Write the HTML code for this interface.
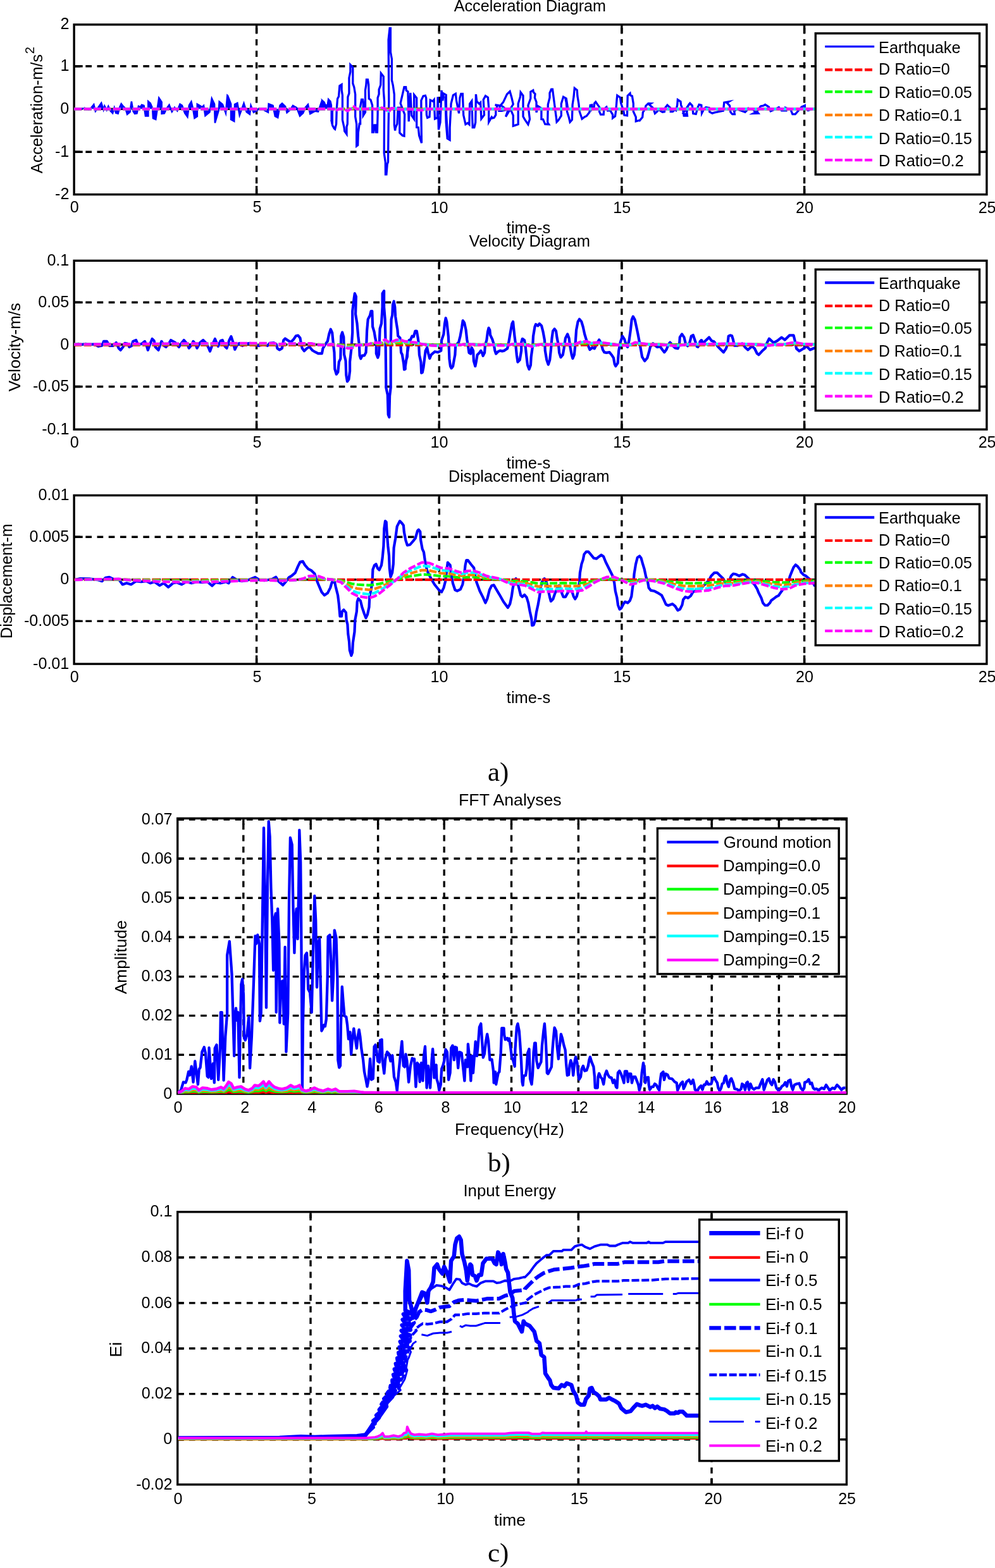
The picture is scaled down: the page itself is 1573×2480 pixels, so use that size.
<!DOCTYPE html>
<html lang="en"><head><meta charset="utf-8"><title>Seismic response figure</title>
<style>
html,body{margin:0;padding:0;background:#fff}
svg{display:block}
text{font-family:"Liberation Sans",sans-serif;fill:#000}
text.sf{font-family:"Liberation Serif",serif}
</style></head>
<body>
<svg width="1573" height="2480" viewBox="0 0 1573 2480">
<rect width="1573" height="2480" fill="#fff"/>
<defs>
<clipPath id="c1"><rect x="117.1" y="38.9" width="1442.80" height="268.70"/></clipPath>
<clipPath id="c2"><rect x="117.1" y="412.3" width="1442.80" height="266.90"/></clipPath>
<clipPath id="c3"><rect x="117.1" y="783.5" width="1442.80" height="266.60"/></clipPath>
<clipPath id="c4"><rect x="280.7" y="1294.4" width="1057.70" height="435.60"/></clipPath>
<clipPath id="c5"><rect x="280.7" y="1916.8" width="1057.70" height="431.20"/></clipPath>
</defs>
<g stroke="#000" stroke-width="3.4" fill="none" clip-path="url(#c1)">
<line x1="405.60" y1="308.40" x2="405.60" y2="38.90" stroke-dasharray="9.7 8.5"/>
<line x1="405.60" y1="38.90" x2="405.60" y2="52.50"/>
<line x1="405.60" y1="307.60" x2="405.60" y2="294.00"/>
<line x1="694.30" y1="308.40" x2="694.30" y2="38.90" stroke-dasharray="9.7 8.5"/>
<line x1="694.30" y1="38.90" x2="694.30" y2="52.50"/>
<line x1="694.30" y1="307.60" x2="694.30" y2="294.00"/>
<line x1="982.90" y1="308.40" x2="982.90" y2="38.90" stroke-dasharray="9.7 8.5"/>
<line x1="982.90" y1="38.90" x2="982.90" y2="52.50"/>
<line x1="982.90" y1="307.60" x2="982.90" y2="294.00"/>
<line x1="1271.60" y1="308.40" x2="1271.60" y2="38.90" stroke-dasharray="9.7 8.5"/>
<line x1="1271.60" y1="38.90" x2="1271.60" y2="52.50"/>
<line x1="1271.60" y1="307.60" x2="1271.60" y2="294.00"/>
<line x1="117.10" y1="104.80" x2="1559.90" y2="104.80" stroke-dasharray="9.7 8.5"/>
<line x1="117.10" y1="104.80" x2="130.70" y2="104.80"/>
<line x1="1559.90" y1="104.80" x2="1546.30" y2="104.80"/>
<line x1="117.10" y1="172.40" x2="1559.90" y2="172.40" stroke-dasharray="9.7 8.5"/>
<line x1="117.10" y1="172.40" x2="130.70" y2="172.40"/>
<line x1="1559.90" y1="172.40" x2="1546.30" y2="172.40"/>
<line x1="117.10" y1="240.20" x2="1559.90" y2="240.20" stroke-dasharray="9.7 8.5"/>
<line x1="117.10" y1="240.20" x2="130.70" y2="240.20"/>
<line x1="1559.90" y1="240.20" x2="1546.30" y2="240.20"/>
</g>
<rect x="117.1" y="38.9" width="1442.80" height="268.70" fill="none" stroke="#000" stroke-width="3.4"/>
<g clip-path="url(#c1)">
<polyline points="117.2,172.3 117.2,172.4 132.1,171.5 133.8,170.7 138.1,173.3 140.6,173.9 144.1,170.5 148.3,165.3 150.9,175.8 155.1,170.3 160.2,162.9 163.6,173.5 165.3,167.7 168.7,174.1 171.3,168.2 174.7,175.4 178.1,178.9 180.7,170.4 183.2,178.6 186.6,179.7 189.2,169.8 191.7,164.2 195.1,168.5 198.5,171.8 201.1,180.7 205.4,177.2 207.9,160.5 210.5,175.7 213.0,179.9 216.4,179.3 219.0,168.0 221.5,169.4 224.1,165.8 227.5,167.0 230.0,183.4 234.3,183.4 234.3,160.4 237.7,163.4 241.1,171.4 242.0,187.2 246.2,188.9 248.8,171.3 251.3,155.0 255.6,161.3 255.6,179.8 259.8,179.2 263.2,171.8 267.5,166.0 271.8,176.7 276.0,170.0 280.3,175.3 284.5,164.6 287.9,166.8 292.2,179.0 296.4,184.8 299.0,166.4 302.4,160.8 305.0,171.4 307.5,186.8 311.8,184.0 311.8,164.8 316.0,167.1 319.4,169.4 322.0,167.0 324.5,183.1 331.4,177.2 334.8,155.8 339.0,164.6 339.9,194.5 345.8,174.3 346.7,160.9 351.8,165.1 356.9,178.8 359.4,150.8 360.0,151.3 365.1,164.5 365.1,189.0 370.2,191.9 371.1,165.1 375.3,162.9 378.7,182.2 385.5,163.3 389.8,177.1 394.9,180.7 396.6,166.9 400.9,177.8 406.0,175.2 409.4,171.6 414.5,172.3 419.6,175.3 423.9,177.6 424.7,164.4 431.5,167.0 434.9,183.8 439.2,186.1 442.6,166.6 446.0,163.5 451.1,168.4 453.6,178.1 458.8,173.6 463.0,166.9 469.0,170.3 474.1,183.4 479.2,178.8 482.6,170.1 486.9,165.3 490.3,180.1 497.9,175.8 503.0,176.5 509.0,159.0 510.2,160.1 510.0,159.5 512.6,161.8 514.6,167.0 517.9,165.3 519.2,157.1 522.4,160.4 523.8,166.3 523.8,189.7 525.7,199.0 525.7,172.3" fill="none" stroke="#0000ff" stroke-width="2.6" stroke-linejoin="miter" stroke-miterlimit="6" style="fill:#0000ff"/>
<polyline points="523.8,189.8 525.7,198.4 528.3,203.1 529.6,204.2 531.6,196.1 532.3,171.6 533.6,156.2 535.5,152.6 536.9,135.8 540.1,133.8 540.1,142.5 541.4,150.6 541.4,189.6 544.1,201.9 544.7,207.5 548.0,212.1 548.0,200.5 549.3,196.1 549.9,153.4 551.9,147.6 551.9,123.2 553.9,113.6 553.9,102.4 557.8,106.6 557.8,131.9 559.8,137.8 561.7,149.3 561.7,184.5 563.7,196.4 563.7,231.0 565.7,229.6 566.3,209.5 568.3,195.6 569.6,195.7 569.6,168.9 571.6,157.3 573.5,157.3 574.2,161.1 574.2,182.8 577.5,177.5 577.5,142.7 578.8,134.6 579.4,125.9 581.4,125.9 582.7,133.7 583.3,156.1 586.0,158.0 588.6,166.4 588.6,209.1 590.6,209.1 591.9,197.9 593.8,197.9 594.5,209.1 596.4,209.1 597.1,180.6 597.1,154.7 599.1,148.9 599.1,141.6 601.7,134.5 602.3,115.8 606.3,121.0 606.3,142.5 607.6,161.1 607.2,242.1 609.3,256.7 609.5,275.9 610.9,275.9 612.2,259.6 613.5,256.3 614.1,200.3 614.8,161.0 614.1,62.8 616.1,44.7 617.4,44.7 617.4,82.2 619.4,93.1 619.4,126.7 621.3,135.1 623.3,149.3 623.3,197.5 624.6,206.5 625.3,202.1 627.9,195.9 629.2,170.4 631.8,170.4 631.8,210.0 636.4,214.5 639.0,215.2 639.7,180.9 633.1,163.5 639.0,137.7 641.6,137.7 642.3,143.0 644.9,144.8 646.2,192.1 648.8,146.9 650.8,182.7 654.7,188.4 654.7,150.0 658.7,155.0 658.7,201.4 661.3,201.8 662.6,214.4 666.5,226.2 665.9,181.9 665.9,158.8 669.1,151.9 672.4,151.1 673.7,154.7 674.4,181.7 675.7,186.2 679.0,184.8 680.3,158.3 684.2,160.2 686.2,157.7 687.5,187.9 691.4,186.1 692.1,153.4 693.4,205.2 696.0,193.5 698.0,142.9 699.9,159.4 701.2,147.9 705.2,150.2 705.8,193.6 707.8,218.3 703.9,152.3 705.2,193.8 707.2,219.1 711.1,221.3 711.1,201.8 713.1,164.0 716.4,150.5 720.3,148.2 721.6,159.6 725.5,179.3 726.9,155.0 728.8,148.4 731.4,148.4 732.7,182.0 736.0,196.6 739.3,194.6 741.9,196.9 742.6,164.3 745.8,159.7 747.2,201.5 749.8,201.5 751.7,193.7 752.4,149.1 753.7,160.4 757.6,164.1 759.6,162.2 760.9,187.9 765.5,181.7 764.2,157.7 767.5,151.7 771.4,154.2 772.7,170.5 772.7,193.1 777.3,185.1 778.6,186.8 781.2,186.0 783.8,181.7 783.8,174.6 786.4,166.5 782.5,166.0 790.4,167.2 789.1,175.3 793.0,175.3 800.9,173.5 791.7,166.2 795.6,161.6 801.5,149.1 806.1,144.7 808.7,153.7 811.3,164.8 799.5,184.6 803.5,173.3 807.4,173.3 811.3,182.5 811.3,199.3 813.9,198.4 819.2,196.6 819.2,164.0 822.5,153.0 823.1,146.0 827.0,151.2 827.0,184.4 829.7,189.1 834.9,196.8 837.5,188.5 834.9,166.6 838.8,155.7 838.8,145.1 842.8,142.8 843.4,146.0 846.0,148.7 845.4,154.5 848.0,161.5 848.0,177.9 850.6,167.8 855.9,171.3 855.9,188.6 858.5,188.9 861.8,196.3 867.6,196.7 865.7,193.5 866.3,165.3 869.0,154.5 869.0,147.1 871.6,141.2 873.5,141.2 874.9,151.9 876.8,166.5 879.4,186.3 880.1,192.9 882.7,190.3 887.3,183.0 887.3,164.0 890.6,153.1 895.2,155.7 896.5,164.0 897.8,172.7 893.9,156.3 895.2,161.5 896.5,176.6 899.2,185.2 901.1,193.1 904.4,189.4 905.1,165.3 907.0,153.1 908.3,139.4 912.3,142.5 912.9,151.8 914.9,164.0 916.2,176.5 918.8,184.0 920.1,188.0 924.1,184.9 927.3,183.5 931.9,177.6 933.2,166.4 935.8,165.9 935.8,172.9 939.1,169.6 939.8,163.2 941.7,161.2 945.0,165.9 947.6,169.6 947.6,176.6 949.6,181.2 954.2,181.2 954.8,172.5 958.8,169.2 960.7,175.1 964.7,174.7 968.6,181.3 968.6,186.7 972.5,183.9 973.8,174.1 975.1,157.5 975.8,151.0 980.4,154.2 981.7,163.4 985.6,174.7 986.9,182.1 991.5,182.9 992.2,151.4 996.1,147.6 996.7,150.8 999.4,151.9 1001.3,163.9 1001.3,176.5 1005.3,185.2 1005.3,191.8 1010.5,190.4 1011.2,190.7 1015.7,185.4 1016.4,177.5 1019.7,172.3 1021.0,167.3 1024.9,163.6 1028.8,163.7 1026.2,165.3 1032.8,171.3 1035.4,179.3 1039.3,175.9 1040.6,172.9 1044.6,175.5 1047.2,177.2 1050.4,176.7 1051.1,171.1 1055.0,166.2 1060.3,171.1 1060.3,176.6 1063.5,176.6 1066.2,173.6 1068.8,174.7 1070.7,166.2 1071.4,157.7 1076.0,160.8 1076.6,166.0 1079.9,174.7 1081.2,183.2 1086.5,183.2 1085.2,172.1 1090.0,163.9 1080.0,179.0 1084.3,181.9 1085.8,177.6 1087.2,168.5 1090.8,163.3 1094.4,167.1 1095.8,179.5 1100.2,180.4 1103.1,169.9 1105.2,165.5 1108.8,166.3 1109.5,179.0 1113.1,171.9 1116.0,169.7 1121.1,170.7 1121.8,176.9 1126.1,179.1 1129.0,178.1 1143.4,175.1 1144.8,162.2 1152.0,160.9 1149.2,162.6 1153.5,167.1 1154.9,177.3 1157.8,180.7 1161.4,180.7 1160.7,175.8 1165.0,172.6 1172.2,175.1 1178.0,177.4 1182.3,172.7 1183.0,171.3 1190.9,173.6 1194.5,177.6 1190.9,179.5 1198.9,179.3 1196.7,176.4 1202.5,167.9 1206.8,167.1 1209.7,165.5 1215.4,169.0 1216.9,172.9 1218.3,175.8 1224.1,173.3 1231.3,169.9 1235.6,174.9 1242.8,174.9 1242.1,170.5 1250.0,173.5 1252.9,180.7 1257.2,180.7 1264.4,172.5 1267.3,169.2 1272.3,166.9 1272.3,171.3 1277.4,174.7 1281.7,173.1 1287.5,172.2" fill="none" stroke="#0000ff" stroke-width="3.3" stroke-linejoin="miter" stroke-miterlimit="6"/>
<polyline points="117.2,172.3 1289.0,172.3" fill="none" stroke="#ff0000" stroke-width="4.2" stroke-linejoin="round" stroke-dasharray="11.9 3.5"/>
<polyline points="117.2,172.3 510.0,172.3 527.0,172.3 529.6,173.3 536.2,172.3 544.1,172.3 549.3,173.3 554.5,172.3 559.8,171.1 563.7,172.3 580.7,172.3 586.0,171.9 593.8,172.5 601.7,171.7 606.9,171.9 612.2,173.3 614.8,173.7 618.7,171.9 625.3,172.1 635.7,172.7 642.3,172.3 667.2,172.9 672.4,172.3 710.0,172.3 1289.0,172.3" fill="none" stroke="#00ff00" stroke-width="4.2" stroke-linejoin="round" stroke-dasharray="11.9 3.5"/>
<polyline points="117.2,172.3 510.0,172.3 527.0,172.3 529.6,174.1 536.2,172.3 544.1,172.3 549.3,174.1 554.5,172.3 559.8,170.2 563.7,172.3 580.7,172.3 586.0,171.6 593.8,172.7 601.7,171.2 606.9,171.6 612.2,174.1 614.8,174.8 618.7,171.6 625.3,171.9 635.7,173.0 642.3,172.3 667.2,173.4 672.4,172.3 710.0,172.3 1289.0,172.3" fill="none" stroke="#ff8000" stroke-width="4.2" stroke-linejoin="round" stroke-dasharray="11.9 3.5"/>
<polyline points="117.2,172.3 510.0,172.3 527.0,172.3 529.6,174.9 536.2,172.3 544.1,172.3 549.3,174.9 554.5,172.3 559.8,169.2 563.7,172.3 580.7,172.3 586.0,171.3 593.8,172.9 601.7,170.7 606.9,171.3 612.2,174.9 614.8,176.0 618.7,171.3 625.3,171.7 635.7,173.3 642.3,172.3 667.2,173.9 672.4,172.3 710.0,172.3 1289.0,172.3" fill="none" stroke="#00ffff" stroke-width="4.2" stroke-linejoin="round" stroke-dasharray="11.9 3.5"/>
<polyline points="117.2,172.3 510.0,172.3 527.0,172.3 529.6,175.6 536.2,172.3 544.1,172.3 549.3,175.6 554.5,172.3 559.8,168.4 563.7,172.3 580.7,172.3 586.0,171.0 593.8,173.0 601.7,170.3 606.9,171.0 612.2,175.6 614.8,176.9 618.7,171.0 625.3,171.6 635.7,173.6 642.3,172.3 667.2,174.3 672.4,172.3 710.0,172.3 1289.0,172.3" fill="none" stroke="#ff00ff" stroke-width="4.2" stroke-linejoin="round" stroke-dasharray="11.9 3.5"/>
</g>
<text x="110.87" y="336.50" font-size="26.3" transform="translate(110.87 0) scale(0.9550 1) translate(-110.87 0)">0</text>
<text x="399.49" y="336.50" font-size="26.3" transform="translate(399.49 0) scale(0.9550 1) translate(-399.49 0)">5</text>
<text x="680.58" y="336.50" font-size="26.3" textLength="27.94" lengthAdjust="spacingAndGlyphs">10</text>
<text x="969.20" y="336.50" font-size="26.3" textLength="27.94" lengthAdjust="spacingAndGlyphs">15</text>
<text x="1258.01" y="336.50" font-size="26.3" textLength="27.94" lengthAdjust="spacingAndGlyphs">20</text>
<text x="1546.63" y="336.50" font-size="26.3" textLength="27.94" lengthAdjust="spacingAndGlyphs">25</text>
<text x="95.52" y="46.50" font-size="26.3" transform="translate(95.52 0) scale(0.9550 1) translate(-95.52 0)">2</text>
<text x="95.39" y="112.40" font-size="26.3" transform="translate(95.39 0) scale(0.9550 1) translate(-95.39 0)">1</text>
<text x="95.14" y="180.00" font-size="26.3" transform="translate(95.14 0) scale(0.9550 1) translate(-95.14 0)">0</text>
<text x="86.98" y="247.80" font-size="26.3" textLength="22.33" lengthAdjust="spacingAndGlyphs">-1</text>
<text x="87.10" y="315.20" font-size="26.3" textLength="22.33" lengthAdjust="spacingAndGlyphs">-2</text>
<rect x="1289.3" y="52.8" width="259.20" height="223.20" fill="#fff" stroke="#000" stroke-width="3.4"/>
<line x1="1304.2" y1="73.70" x2="1382.2" y2="73.70" stroke="#0000ff" stroke-width="3.2"/>
<text x="1388.97" y="83.50" font-size="26.3" textLength="129.67" lengthAdjust="spacingAndGlyphs">Earthquake</text>
<line x1="1304.2" y1="110.40" x2="1382.2" y2="110.40" stroke="#ff0000" stroke-width="4.2" stroke-dasharray="12 3.7"/>
<text x="1388.98" y="118.30" font-size="26.3" textLength="112.89" lengthAdjust="spacingAndGlyphs">D Ratio=0</text>
<line x1="1304.2" y1="145.10" x2="1382.2" y2="145.10" stroke="#00ff00" stroke-width="4.2" stroke-dasharray="12 3.7"/>
<text x="1388.98" y="154.60" font-size="26.3" textLength="147.82" lengthAdjust="spacingAndGlyphs">D Ratio=0.05</text>
<line x1="1304.2" y1="181.80" x2="1382.2" y2="181.80" stroke="#ff8000" stroke-width="4.2" stroke-dasharray="12 3.7"/>
<text x="1389.02" y="190.70" font-size="26.3" textLength="131.67" lengthAdjust="spacingAndGlyphs">D Ratio=0.1</text>
<line x1="1304.2" y1="216.90" x2="1382.2" y2="216.90" stroke="#00ffff" stroke-width="4.2" stroke-dasharray="12 3.7"/>
<text x="1388.98" y="227.50" font-size="26.3" textLength="147.82" lengthAdjust="spacingAndGlyphs">D Ratio=0.15</text>
<line x1="1304.2" y1="253.20" x2="1382.2" y2="253.20" stroke="#ff00ff" stroke-width="4.2" stroke-dasharray="12 3.7"/>
<text x="1388.97" y="263.10" font-size="26.3" textLength="134.77" lengthAdjust="spacingAndGlyphs">D Ratio=0.2</text>
<g stroke="#000" stroke-width="3.4" fill="none" clip-path="url(#c2)">
<line x1="405.60" y1="680.00" x2="405.60" y2="412.30" stroke-dasharray="9.7 8.5"/>
<line x1="405.60" y1="412.30" x2="405.60" y2="425.90"/>
<line x1="405.60" y1="679.20" x2="405.60" y2="665.60"/>
<line x1="694.30" y1="680.00" x2="694.30" y2="412.30" stroke-dasharray="9.7 8.5"/>
<line x1="694.30" y1="412.30" x2="694.30" y2="425.90"/>
<line x1="694.30" y1="679.20" x2="694.30" y2="665.60"/>
<line x1="982.90" y1="680.00" x2="982.90" y2="412.30" stroke-dasharray="9.7 8.5"/>
<line x1="982.90" y1="412.30" x2="982.90" y2="425.90"/>
<line x1="982.90" y1="679.20" x2="982.90" y2="665.60"/>
<line x1="1271.60" y1="680.00" x2="1271.60" y2="412.30" stroke-dasharray="9.7 8.5"/>
<line x1="1271.60" y1="412.30" x2="1271.60" y2="425.90"/>
<line x1="1271.60" y1="679.20" x2="1271.60" y2="665.60"/>
<line x1="117.10" y1="478.20" x2="1559.90" y2="478.20" stroke-dasharray="9.7 8.5"/>
<line x1="117.10" y1="478.20" x2="130.70" y2="478.20"/>
<line x1="1559.90" y1="478.20" x2="1546.30" y2="478.20"/>
<line x1="117.10" y1="545.00" x2="1559.90" y2="545.00" stroke-dasharray="9.7 8.5"/>
<line x1="117.10" y1="545.00" x2="130.70" y2="545.00"/>
<line x1="1559.90" y1="545.00" x2="1546.30" y2="545.00"/>
<line x1="117.10" y1="611.50" x2="1559.90" y2="611.50" stroke-dasharray="9.7 8.5"/>
<line x1="117.10" y1="611.50" x2="130.70" y2="611.50"/>
<line x1="1559.90" y1="611.50" x2="1546.30" y2="611.50"/>
</g>
<rect x="117.1" y="412.3" width="1442.80" height="266.90" fill="none" stroke="#000" stroke-width="3.4"/>
<g clip-path="url(#c2)">
<polyline points="117.9,544.8 123.8,543.9 129.6,544.8 135.5,543.9 141.4,544.8 149.3,544.4 155.2,547.8 161.1,546.8 164.0,539.9 168.9,539.9 172.9,546.8 178.8,546.8 183.7,541.9 187.6,550.7 190.6,553.7 194.5,548.8 197.4,542.9 202.3,543.9 204.3,548.8 208.2,546.8 210.2,539.9 215.1,538.0 218.1,544.8 223.9,543.9 228.9,539.9 231.8,546.8 233.8,553.7 237.7,542.9 240.6,536.0 243.6,538.9 245.6,548.8 250.5,553.7 253.4,544.8 255.4,539.9 259.3,546.8 262.3,548.8 267.2,542.9 270.1,538.0 277.0,541.9 282.9,548.8 286.8,542.9 290.7,538.0 296.6,544.8 298.6,550.7 303.5,544.8 305.5,539.9 309.4,544.8 311.4,550.7 316.3,541.9 321.2,538.0 326.1,542.9 330.0,550.7 332.0,555.6 335.9,544.8 339.9,536.0 344.8,547.8 348.7,538.9 351.7,538.0 355.6,547.8 358.5,550.7 362.5,538.0 365.4,532.1 368.3,540.9 371.3,552.7 374.2,546.8 378.2,542.9 383.1,546.8 389.0,543.9 394.9,542.9 398.8,543.3 400.0,544.4 404.9,546.1 409.8,546.9 416.4,544.4 422.9,546.9 426.2,542.8 432.7,542.0 436.8,544.4 438.5,551.0 441.7,553.4 445.8,551.0 448.3,537.9 450.8,535.4 455.7,538.7 459.8,541.2 463.9,537.1 467.9,531.3 471.2,530.5 474.5,534.6 476.1,544.4 477.8,551.0 481.0,555.1 485.1,551.0 489.2,548.5 494.1,554.3 498.2,556.7 503.1,559.2 508.9,559.2 510.5,551.0 514.6,544.4 517.9,539.5 520.3,528.1 522.8,520.7 525.2,526.4 526.9,544.4 528.5,557.5 529.3,583.7 531.8,591.9 534.3,588.6 535.9,572.3 538.3,567.3 539.2,531.3 541.1,525.6 543.3,533.0 544.1,560.8 546.5,570.6 547.3,593.5 549.0,603.4 551.4,600.1 553.1,587.0 553.1,572.3 555.5,551.0 557.2,526.4 557.2,492.0 559.6,472.4 560.8,464.2 562.9,469.1 562.1,496.9 564.5,511.7 566.2,531.3 567.8,544.4 568.6,562.4 570.3,567.3 572.7,562.4 576.0,562.4 578.5,557.5 579.3,544.4 580.1,523.1 581.7,505.1 585.0,498.6 586.6,492.0 588.3,492.0 589.1,516.6 591.6,524.8 593.2,534.6 594.8,541.2 594.8,559.2 597.3,565.7 598.9,560.8 599.7,544.4 600.6,519.9 603.0,511.7 604.6,485.5 604.6,464.2 607.1,460.1 607.1,485.5 608.7,505.1 609.6,544.4 610.4,613.2 612.8,624.6 613.7,655.8 615.3,659.8 616.1,626.3 617.7,613.2 617.7,544.4 618.6,505.1 620.2,498.6 621.0,482.2 622.7,476.5 624.3,485.5 625.1,500.2 626.8,511.7 628.4,521.5 629.2,531.3 632.5,534.6 633.3,544.4 634.1,557.5 635.8,560.8 638.2,575.5 639.0,584.5 640.7,583.7 640.7,573.9 643.9,564.1 644.8,544.4 647.2,537.9 640.0,584.1 641.6,571.0 643.3,566.1 644.9,544.8 646.5,538.2 649.0,537.4 651.5,531.7 653.9,532.5 656.4,523.5 658.8,523.5 660.5,533.3 662.1,544.8 662.9,561.2 665.4,572.6 666.2,589.8 667.8,589.0 669.5,580.8 671.1,567.7 672.7,554.6 675.2,549.7 676.8,557.9 679.3,566.9 681.7,561.2 687.5,556.2 692.4,557.1 697.3,554.6 698.1,538.2 701.4,528.4 703.0,512.0 704.7,503.0 706.3,508.8 708.8,531.7 709.6,546.4 710.4,567.7 712.0,579.2 713.7,582.4 716.1,579.2 717.8,569.3 719.4,561.2 720.2,546.4 725.1,541.5 727.6,531.7 730.0,518.6 731.7,507.1 734.1,510.4 736.6,521.9 738.2,536.6 739.9,546.4 741.5,557.9 744.0,559.5 745.6,549.7 748.1,554.6 748.9,571.0 751.3,579.2 753.0,571.0 754.6,561.2 757.9,557.9 760.3,554.6 762.0,557.9 763.6,562.8 766.1,557.9 766.9,546.4 769.3,538.2 771.0,525.1 772.6,518.6 774.3,521.9 775.1,530.0 778.3,536.6 780.8,544.8 782.4,554.6 784.1,559.5 787.3,556.2 790.6,554.6 793.9,555.4 797.2,554.6 802.1,551.3 804.5,539.9 807.0,525.1 809.4,512.0 811.1,508.8 811.9,516.9 813.5,531.7 815.2,544.8 816.8,561.2 818.5,572.6 821.7,569.3 824.2,554.6 824.2,541.5 825.8,535.8 829.1,538.2 830.7,548.1 832.4,564.4 834.0,577.5 836.5,584.1 838.9,577.5 839.7,564.4 842.2,546.4 843.0,531.7 845.5,516.9 847.1,512.9 850.4,515.3 852.8,512.0 856.1,515.3 858.6,525.1 861.0,538.2 861.8,554.6 864.3,569.3 866.8,576.7 869.2,569.3 870.8,554.6 872.5,535.0 874.1,523.5 876.6,520.2 879.0,523.5 880.7,535.0 883.1,546.4 884.1,557.9 886.5,565.2 889.8,561.2 891.5,551.3 893.9,535.0 897.2,528.4 899.6,535.0 901.3,548.1 903.7,561.2 905.4,566.9 907.8,561.2 909.5,544.8 911.1,521.9 913.6,508.8 916.0,504.7 919.3,508.8 921.7,516.9 924.2,528.4 926.7,536.6 929.1,544.8 932.4,553.0 936.5,549.7 939.8,551.3 943.0,544.8 947.1,537.4 950.4,543.1 952.9,553.0 955.3,557.1 958.6,557.9 963.5,557.1 966.8,561.2 970.0,566.1 971.7,575.9 973.3,579.2 976.6,574.3 978.2,554.6 980.7,541.5 984.0,531.7 987.2,536.6 989.7,544.8 992.1,548.9 994.6,538.2 997.1,520.2 998.7,505.5 1000.8,500.6 1003.6,505.5 1006.1,516.9 1008.5,528.4 1011.0,541.5 1013.4,554.6 1015.1,564.4 1019.2,571.0 1023.3,566.1 1025.7,557.9 1028.2,548.1 1032.3,543.1 1035.5,546.4 1038.8,548.9 1043.7,548.1 1047.0,553.0 1050.3,557.1 1053.5,553.0 1056.8,544.8 1059.3,541.5 1063.4,546.4 1067.5,550.5 1071.6,551.3 1074.0,544.8 1074.8,533.3 1078.1,528.4 1081.4,533.3 1083.8,543.1 1087.1,547.2 1090.4,541.5 1092.8,531.7 1095.8,530.0 1098.6,538.2 1101.8,548.1 1105.1,546.4 1106.8,539.9 1109.2,538.2 1103.3,548.7 1108.5,538.2 1111.8,542.2 1121.0,533.6 1124.9,538.9 1128.8,540.2 1135.4,548.7 1143.9,557.2 1147.8,551.3 1150.4,543.5 1151.7,531.7 1154.4,530.4 1157.0,531.0 1158.9,536.9 1160.9,546.7 1165.5,546.7 1173.3,543.5 1178.6,550.0 1182.5,553.3 1189.1,547.4 1193.0,551.3 1196.9,559.2 1199.5,561.2 1204.8,555.3 1210.0,550.7 1212.6,542.2 1215.9,535.6 1223.1,542.2 1229.0,538.9 1235.6,533.6 1240.8,537.6 1248.0,530.4 1254.6,530.4 1256.5,538.2 1259.1,551.3 1263.7,555.3 1270.3,551.3 1274.9,547.4 1280.7,553.3 1288.6,550.0" fill="none" stroke="#0000ff" stroke-width="4.2" stroke-linejoin="round"/>
<polyline points="117.2,545.6 1289.0,545.6" fill="none" stroke="#ff0000" stroke-width="4.2" stroke-linejoin="round" stroke-dasharray="11.9 3.5"/>
<polyline points="117.2,544.6 400.0,544.1 432.7,544.1 439.3,544.7 449.1,544.3 491.7,544.1 501.5,544.8 514.6,545.1 524.4,544.5 531.0,545.1 539.2,545.5 550.6,546.5 557.2,546.3 563.7,545.1 580.1,544.8 589.9,543.8 601.4,543.8 608.7,542.4 616.1,543.8 625.9,542.6 632.5,542.4 639.0,543.1 650.0,543.6 656.4,543.7 666.2,544.4 680.9,545.1 697.3,545.4 708.8,544.7 721.9,545.1 731.7,544.7 746.4,544.6 754.6,544.9 771.0,544.7 787.3,545.1 800.4,545.1 811.9,544.4 828.3,544.7 841.4,545.6 852.8,544.7 869.2,544.7 896.4,544.4 906.2,544.9 917.7,543.4 927.5,543.2 934.0,543.9 945.5,543.7 955.3,543.9 971.7,544.7 981.5,545.1 994.6,545.1 1004.4,543.7 1014.3,544.1 1027.3,544.7 1043.7,544.7 1060.1,545.1 1069.9,545.4 1084.6,544.7 1109.2,544.4 1126.2,544.5 1152.4,544.3 1185.1,544.5 1204.8,544.8 1215.3,545.2 1223.1,544.8 1237.5,544.7 1250.6,543.9 1261.1,543.9 1270.3,544.5 1288.6,544.7" fill="none" stroke="#00ff00" stroke-width="4.2" stroke-linejoin="round" stroke-dasharray="11.9 3.5"/>
<polyline points="117.2,544.6 400.0,543.6 432.7,543.6 439.3,544.7 449.1,544.1 491.7,543.8 501.5,544.9 514.6,545.4 524.4,544.5 531.0,545.4 539.2,546.3 550.6,548.1 557.2,547.7 563.7,545.4 580.1,544.9 589.9,543.2 601.4,543.2 608.7,540.5 616.1,543.2 625.9,540.9 632.5,540.5 639.0,541.8 650.0,542.7 656.4,542.9 666.2,544.3 680.9,545.6 697.3,546.0 708.8,544.7 721.9,545.6 731.7,544.7 746.4,544.5 754.6,545.1 771.0,544.7 787.3,545.6 800.4,545.6 811.9,544.3 828.3,544.7 841.4,546.5 852.8,544.7 869.2,544.7 896.4,544.3 906.2,545.1 917.7,542.5 927.5,542.0 934.0,543.3 945.5,542.9 955.3,543.3 971.7,544.7 981.5,545.6 994.6,545.6 1004.4,542.9 1014.3,543.8 1027.3,544.7 1043.7,544.7 1060.1,545.6 1069.9,546.0 1084.6,544.7 1109.2,544.3 1126.2,544.3 1152.4,544.0 1185.1,544.3 1204.8,545.0 1215.3,545.8 1223.1,545.0 1237.5,544.7 1250.6,543.3 1261.1,543.3 1270.3,544.3 1288.6,544.7" fill="none" stroke="#ff8000" stroke-width="4.2" stroke-linejoin="round" stroke-dasharray="11.9 3.5"/>
<polyline points="117.2,544.6 400.0,543.2 432.7,543.2 439.3,544.8 449.1,543.8 491.7,543.4 501.5,545.1 514.6,545.8 524.4,544.4 531.0,545.8 539.2,547.1 550.6,549.7 557.2,549.1 563.7,545.8 580.1,545.1 589.9,542.5 601.4,542.5 608.7,538.6 616.1,542.5 625.9,539.2 632.5,538.6 639.0,540.5 650.0,541.9 656.4,542.1 666.2,544.1 680.9,546.0 697.3,546.7 708.8,544.8 721.9,546.0 731.7,544.8 746.4,544.5 754.6,545.4 771.0,544.8 787.3,546.0 800.4,546.0 811.9,544.1 828.3,544.8 841.4,547.4 852.8,544.8 869.2,544.8 896.4,544.1 906.2,545.4 917.7,541.5 927.5,540.8 934.0,542.8 945.5,542.1 955.3,542.8 971.7,544.8 981.5,546.0 994.6,546.0 1004.4,542.1 1014.3,543.4 1027.3,544.8 1043.7,544.8 1060.1,546.0 1069.9,546.7 1084.6,544.8 1109.2,544.1 1126.2,544.2 1152.4,543.7 1185.1,544.2 1204.8,545.2 1215.3,546.3 1223.1,545.2 1237.5,544.8 1250.6,542.7 1261.1,542.7 1270.3,544.2 1288.6,544.8" fill="none" stroke="#00ffff" stroke-width="4.2" stroke-linejoin="round" stroke-dasharray="11.9 3.5"/>
<polyline points="117.2,544.6 400.0,542.8 432.7,542.8 439.3,544.8 449.1,543.6 491.7,543.1 501.5,545.2 514.6,546.1 524.4,544.4 531.0,546.1 539.2,547.7 550.6,551.0 557.2,550.2 563.7,546.1 580.1,545.2 589.9,542.0 601.4,542.0 608.7,537.1 616.1,542.0 625.9,537.9 632.5,537.1 639.0,539.5 650.0,541.2 656.4,541.5 666.2,544.0 680.9,546.4 697.3,547.2 708.8,544.8 721.9,546.4 731.7,544.8 746.4,544.5 754.6,545.6 771.0,544.8 787.3,546.4 800.4,546.4 811.9,544.0 828.3,544.8 841.4,548.1 852.8,544.8 869.2,544.8 896.4,544.0 906.2,545.6 917.7,540.7 927.5,539.9 934.0,542.3 945.5,541.5 955.3,542.3 971.7,544.8 981.5,546.4 994.6,546.4 1004.4,541.5 1014.3,543.1 1027.3,544.8 1043.7,544.8 1060.1,546.4 1069.9,547.2 1084.6,544.8 1109.2,544.0 1126.2,544.1 1152.4,543.5 1185.1,544.1 1204.8,545.4 1215.3,546.7 1223.1,545.4 1237.5,544.8 1250.6,542.2 1261.1,542.2 1270.3,544.1 1288.6,544.8" fill="none" stroke="#ff00ff" stroke-width="4.2" stroke-linejoin="round" stroke-dasharray="11.9 3.5"/>
</g>
<text x="110.87" y="708.10" font-size="26.3" transform="translate(110.87 0) scale(0.9550 1) translate(-110.87 0)">0</text>
<text x="399.49" y="708.10" font-size="26.3" transform="translate(399.49 0) scale(0.9550 1) translate(-399.49 0)">5</text>
<text x="680.58" y="708.10" font-size="26.3" textLength="27.94" lengthAdjust="spacingAndGlyphs">10</text>
<text x="969.20" y="708.10" font-size="26.3" textLength="27.94" lengthAdjust="spacingAndGlyphs">15</text>
<text x="1258.01" y="708.10" font-size="26.3" textLength="27.94" lengthAdjust="spacingAndGlyphs">20</text>
<text x="1546.63" y="708.10" font-size="26.3" textLength="27.94" lengthAdjust="spacingAndGlyphs">25</text>
<text x="74.42" y="419.90" font-size="26.3" textLength="34.92" lengthAdjust="spacingAndGlyphs">0.1</text>
<text x="60.35" y="485.80" font-size="26.3" textLength="48.88" lengthAdjust="spacingAndGlyphs">0.05</text>
<text x="95.14" y="552.60" font-size="26.3" transform="translate(95.14 0) scale(0.9550 1) translate(-95.14 0)">0</text>
<text x="51.94" y="619.10" font-size="26.3" textLength="57.25" lengthAdjust="spacingAndGlyphs">-0.05</text>
<text x="66.13" y="686.80" font-size="26.3" textLength="43.28" lengthAdjust="spacingAndGlyphs">-0.1</text>
<rect x="1289.3" y="426.2" width="259.20" height="223.20" fill="#fff" stroke="#000" stroke-width="3.4"/>
<line x1="1304.2" y1="447.10" x2="1382.2" y2="447.10" stroke="#0000ff" stroke-width="4.2"/>
<text x="1388.97" y="456.90" font-size="26.3" textLength="129.67" lengthAdjust="spacingAndGlyphs">Earthquake</text>
<line x1="1304.2" y1="483.80" x2="1382.2" y2="483.80" stroke="#ff0000" stroke-width="4.2" stroke-dasharray="12 3.7"/>
<text x="1388.98" y="491.70" font-size="26.3" textLength="112.89" lengthAdjust="spacingAndGlyphs">D Ratio=0</text>
<line x1="1304.2" y1="518.50" x2="1382.2" y2="518.50" stroke="#00ff00" stroke-width="4.2" stroke-dasharray="12 3.7"/>
<text x="1388.98" y="528.00" font-size="26.3" textLength="147.82" lengthAdjust="spacingAndGlyphs">D Ratio=0.05</text>
<line x1="1304.2" y1="555.20" x2="1382.2" y2="555.20" stroke="#ff8000" stroke-width="4.2" stroke-dasharray="12 3.7"/>
<text x="1389.02" y="564.10" font-size="26.3" textLength="131.67" lengthAdjust="spacingAndGlyphs">D Ratio=0.1</text>
<line x1="1304.2" y1="590.30" x2="1382.2" y2="590.30" stroke="#00ffff" stroke-width="4.2" stroke-dasharray="12 3.7"/>
<text x="1388.98" y="600.90" font-size="26.3" textLength="147.82" lengthAdjust="spacingAndGlyphs">D Ratio=0.15</text>
<line x1="1304.2" y1="626.60" x2="1382.2" y2="626.60" stroke="#ff00ff" stroke-width="4.2" stroke-dasharray="12 3.7"/>
<text x="1388.97" y="636.50" font-size="26.3" textLength="134.77" lengthAdjust="spacingAndGlyphs">D Ratio=0.2</text>
<g stroke="#000" stroke-width="3.4" fill="none" clip-path="url(#c3)">
<line x1="405.60" y1="1050.90" x2="405.60" y2="783.50" stroke-dasharray="9.7 8.5"/>
<line x1="405.60" y1="783.50" x2="405.60" y2="797.10"/>
<line x1="405.60" y1="1050.10" x2="405.60" y2="1036.50"/>
<line x1="694.30" y1="1050.90" x2="694.30" y2="783.50" stroke-dasharray="9.7 8.5"/>
<line x1="694.30" y1="783.50" x2="694.30" y2="797.10"/>
<line x1="694.30" y1="1050.10" x2="694.30" y2="1036.50"/>
<line x1="982.90" y1="1050.90" x2="982.90" y2="783.50" stroke-dasharray="9.7 8.5"/>
<line x1="982.90" y1="783.50" x2="982.90" y2="797.10"/>
<line x1="982.90" y1="1050.10" x2="982.90" y2="1036.50"/>
<line x1="1271.60" y1="1050.90" x2="1271.60" y2="783.50" stroke-dasharray="9.7 8.5"/>
<line x1="1271.60" y1="783.50" x2="1271.60" y2="797.10"/>
<line x1="1271.60" y1="1050.10" x2="1271.60" y2="1036.50"/>
<line x1="117.10" y1="849.20" x2="1559.90" y2="849.20" stroke-dasharray="9.7 8.5"/>
<line x1="117.10" y1="849.20" x2="130.70" y2="849.20"/>
<line x1="1559.90" y1="849.20" x2="1546.30" y2="849.20"/>
<line x1="117.10" y1="916.80" x2="1559.90" y2="916.80" stroke-dasharray="9.7 8.5"/>
<line x1="117.10" y1="916.80" x2="130.70" y2="916.80"/>
<line x1="1559.90" y1="916.80" x2="1546.30" y2="916.80"/>
<line x1="117.10" y1="982.40" x2="1559.90" y2="982.40" stroke-dasharray="9.7 8.5"/>
<line x1="117.10" y1="982.40" x2="130.70" y2="982.40"/>
<line x1="1559.90" y1="982.40" x2="1546.30" y2="982.40"/>
</g>
<rect x="117.1" y="783.5" width="1442.80" height="266.60" fill="none" stroke="#000" stroke-width="3.4"/>
<g clip-path="url(#c3)">
<polyline points="118.4,917.1 126.8,915.0 141.4,915.4 154.0,917.1 161.3,919.2 166.6,913.9 172.9,912.9 179.2,916.0 187.5,916.0 193.8,924.4 200.1,922.3 207.4,924.4 214.8,919.2 223.2,920.2 231.5,919.2 237.8,922.3 244.1,920.2 252.5,925.9 258.8,922.3 266.1,928.6 273.5,922.3 279.7,921.2 287.1,924.4 294.4,920.2 302.8,922.3 311.2,920.2 319.6,921.2 327.9,920.2 335.3,926.5 340.5,921.2 348.9,922.3 357.3,920.2 361.5,922.3 367.8,912.9 374.0,917.1 382.4,919.2 392.9,917.1 403.4,912.9 409.7,917.1 418.0,918.1 420.0,917.7 430.2,916.0 436.2,912.6 440.4,919.4 447.2,925.4 452.4,919.4 456.6,913.4 460.9,910.9 466.8,905.8 471.1,895.6 474.5,888.8 478.7,887.9 482.1,893.9 487.3,899.8 492.4,902.4 497.5,907.5 500.0,916.0 503.4,924.5 508.5,936.4 512.8,941.5 517.9,938.1 522.2,929.6 524.7,921.1 529.0,920.3 530.7,927.9 534.1,941.5 535.8,955.2 537.5,974.7 540.0,974.7 540.9,967.1 543.4,964.5 546.9,968.8 547.7,980.7 549.4,987.5 550.3,1002.8 552.0,1014.8 552.8,1028.4 555.4,1036.9 557.1,1031.8 557.9,1016.5 560.5,999.4 561.3,980.7 563.9,967.1 564.7,951.8 566.4,946.6 569.8,950.1 572.4,960.3 575.8,970.5 578.4,977.3 580.9,972.2 583.5,960.3 584.3,943.2 586.9,931.3 588.6,919.4 589.4,900.7 592.0,893.9 594.5,892.2 597.1,899.0 599.6,901.5 603.0,893.9 604.7,881.9 606.4,863.2 607.3,836.0 609.0,824.1 610.7,825.8 611.6,841.1 613.3,863.2 615.0,878.5 615.8,899.0 617.5,912.6 620.1,905.8 621.8,892.2 622.6,866.6 625.2,851.3 627.7,832.6 632.0,824.1 635.4,827.5 637.9,830.9 638.8,841.1 641.4,854.7 643.9,862.4 648.2,861.5 653.3,855.6 656.7,851.3 660.1,839.4 661.8,837.7 664.3,841.1 665.2,854.7 667.7,868.3 670.0,873.4 671.7,885.4 675.1,902.4 681.9,916.0 687.0,924.5 693.8,933.0 698.1,936.4 701.5,929.6 704.1,919.4 706.6,899.0 707.8,889.6 711.7,893.9 713.4,909.2 716.0,922.8 719.4,933.0 722.8,934.7 727.9,932.2 731.3,924.5 733.9,909.2 735.6,893.9 737.3,886.2 739.8,886.2 744.9,893.0 749.2,898.1 750.9,909.2 753.4,921.1 758.5,934.7 763.6,944.9 767.4,953.5 770.5,946.6 773.9,933.0 777.3,926.2 780.7,925.4 784.1,931.3 789.2,939.8 796.0,951.8 802.8,961.1 806.2,955.2 808.8,943.2 810.5,931.3 813.0,919.4 815.6,915.1 818.1,921.1 820.7,931.3 823.2,941.5 825.8,944.1 829.2,940.7 832.6,944.9 835.2,953.5 837.7,967.1 840.3,979.0 841.1,989.2 843.7,988.4 846.2,980.7 847.9,968.8 850.5,956.9 853.0,943.2 854.7,929.6 857.3,919.4 860.7,915.1 864.1,921.1 866.7,933.0 869.2,944.9 870.9,950.9 874.3,947.5 876.9,939.8 880.3,931.3 883.7,926.2 886.2,931.3 888.8,939.8 890.5,944.1 893.9,944.1 897.3,938.1 900.7,931.3 904.1,934.7 906.7,943.2 909.2,947.5 911.8,943.2 914.3,933.0 916.0,919.4 916.9,905.8 919.4,892.2 921.7,885.4 923.4,876.8 926.8,872.6 930.2,872.6 934.5,877.7 938.7,882.8 943.0,883.6 947.2,880.2 950.6,877.7 954.1,880.2 957.5,888.8 962.6,899.0 967.7,909.2 971.1,921.1 972.8,934.7 975.3,944.9 977.0,956.9 979.6,963.7 982.1,962.0 985.6,955.2 988.1,951.8 992.4,953.5 995.8,950.1 998.3,943.2 1000.0,929.6 1001.7,919.4 1002.6,907.5 1005.1,892.2 1007.7,881.9 1011.1,879.4 1013.6,882.8 1016.2,892.2 1018.8,900.7 1021.3,912.6 1023.9,919.4 1025.6,929.6 1029.0,933.9 1034.1,934.7 1039.2,937.3 1046.0,941.5 1049.4,948.4 1052.8,956.0 1056.2,957.7 1063.0,955.2 1067.3,958.6 1071.5,965.4 1074.9,963.7 1078.4,956.9 1080.1,948.4 1083.5,944.1 1087.7,945.8 1092.0,942.4 1095.4,936.4 1100.5,933.9 1107.3,931.3 1114.1,924.5 1120.9,917.7 1124.3,910.9 1129.4,905.8 1133.7,905.8 1137.9,910.0 1143.1,915.1 1146.5,921.1 1149.9,922.0 1153.3,917.7 1155.8,910.9 1159.2,907.5 1163.5,908.3 1168.6,910.9 1173.7,908.3 1177.1,909.2 1178.6,910.4 1183.8,915.6 1189.1,920.9 1193.0,924.8 1196.9,931.3 1199.5,937.9 1203.5,945.7 1206.1,953.6 1209.4,957.5 1213.3,957.5 1217.2,953.6 1219.2,949.7 1223.1,947.0 1227.0,943.8 1231.0,941.8 1233.6,937.9 1237.5,932.6 1242.8,924.8 1246.7,920.9 1248.7,911.7 1251.9,903.8 1254.6,897.3 1257.8,893.3 1261.1,896.0 1265.0,901.2 1266.3,905.1 1270.3,909.1 1274.2,911.0 1279.4,915.6 1284.7,920.9 1288.6,927.4" fill="none" stroke="#0000ff" stroke-width="4.2" stroke-linejoin="round"/>
<polyline points="117.2,916.9 1289.0,916.9" fill="none" stroke="#ff0000" stroke-width="4.2" stroke-linejoin="round" stroke-dasharray="11.9 3.5"/>
<polyline points="118.4,917.0 187.5,916.5 204.3,917.1 256.7,917.9 298.6,918.1 340.5,917.9 382.4,917.4 420.0,917.1 445.5,917.4 467.7,917.0 479.6,916.4 488.1,915.2 496.6,915.1 505.1,915.3 513.6,916.4 525.6,916.9 539.2,918.2 549.4,921.2 556.2,923.3 564.7,924.5 573.2,925.1 583.5,925.6 592.0,924.8 600.5,923.3 609.0,921.2 617.5,919.2 627.7,916.6 637.9,913.6 648.2,911.5 658.4,910.0 666.9,908.7 670.0,908.7 678.5,909.0 687.0,910.0 697.2,911.3 709.2,911.5 721.1,912.8 729.6,913.6 738.1,912.8 748.3,912.6 758.5,913.6 768.8,915.1 780.7,915.9 789.2,916.4 799.4,917.9 809.6,919.2 819.8,919.2 830.1,919.7 840.3,921.2 850.5,922.8 860.7,922.5 874.3,922.5 891.4,922.2 908.4,922.5 918.6,922.0 920.0,922.0 930.2,920.2 940.4,918.2 950.6,916.6 959.2,915.6 971.1,915.6 979.6,916.6 988.1,917.9 996.6,919.2 1005.1,918.7 1011.9,917.6 1018.8,917.0 1030.7,917.4 1039.2,917.9 1049.4,918.7 1059.6,920.0 1069.8,921.2 1080.1,922.2 1090.3,922.5 1100.5,922.5 1100.0,922.4 1119.6,922.0 1132.7,920.8 1145.8,919.8 1158.9,919.7 1172.0,918.9 1185.1,918.3 1198.2,918.5 1211.3,919.7 1224.4,920.8 1237.5,921.4 1248.0,921.0 1257.2,919.7 1270.3,918.9 1288.6,918.5" fill="none" stroke="#00ff00" stroke-width="4.2" stroke-linejoin="round" stroke-dasharray="11.9 3.5"/>
<polyline points="118.4,917.0 187.5,916.2 204.3,917.2 256.7,918.7 298.6,919.0 340.5,918.7 382.4,917.9 420.0,917.3 445.5,917.8 467.7,917.2 479.6,915.9 488.1,913.8 496.6,913.6 505.1,914.0 513.6,915.9 525.6,916.9 539.2,919.2 549.4,924.8 556.2,928.6 564.7,930.9 573.2,931.9 583.5,932.8 592.0,931.4 600.5,928.6 609.0,924.8 617.5,921.1 627.7,916.4 637.9,910.8 648.2,907.1 658.4,904.2 666.9,901.9 670.0,901.9 678.5,902.4 687.0,904.2 697.2,906.6 709.2,907.1 721.1,909.4 729.6,910.8 738.1,909.4 748.3,909.1 758.5,910.8 768.8,913.6 780.7,915.0 789.2,915.9 799.4,918.8 809.6,921.1 819.8,921.1 830.1,922.0 840.3,924.8 850.5,927.6 860.7,927.2 874.3,927.2 891.4,926.7 908.4,927.2 918.6,926.2 920.0,926.2 930.2,922.9 940.4,919.2 950.6,916.4 959.2,914.5 971.1,914.5 979.6,916.4 988.1,918.8 996.6,921.1 1005.1,920.1 1011.9,918.3 1018.8,917.2 1030.7,917.8 1039.2,918.8 1049.4,920.1 1059.6,922.5 1069.8,924.8 1080.1,926.7 1090.3,927.2 1100.5,927.2 1100.0,927.0 1119.6,926.2 1132.7,924.1 1145.8,922.3 1158.9,922.0 1172.0,920.5 1185.1,919.4 1198.2,919.8 1211.3,922.0 1224.4,924.1 1237.5,925.2 1248.0,924.5 1257.2,922.0 1270.3,920.5 1288.6,919.8" fill="none" stroke="#ff8000" stroke-width="4.2" stroke-linejoin="round" stroke-dasharray="11.9 3.5"/>
<polyline points="118.4,917.1 187.5,915.9 204.3,917.4 256.7,919.5 298.6,920.0 340.5,919.5 382.4,918.3 420.0,917.5 445.5,918.3 467.7,917.3 479.6,915.5 488.1,912.3 496.6,912.1 505.1,912.7 513.6,915.5 525.6,916.9 539.2,920.3 549.4,928.4 556.2,933.9 564.7,937.3 573.2,938.7 583.5,940.0 592.0,937.9 600.5,933.9 609.0,928.4 617.5,923.0 627.7,916.2 637.9,908.0 648.2,902.6 658.4,898.5 666.9,895.1 670.0,895.1 678.5,895.8 687.0,898.5 697.2,901.9 709.2,902.6 721.1,905.9 729.6,908.0 738.1,905.9 748.3,905.5 758.5,908.0 768.8,912.1 780.7,914.1 789.2,915.5 799.4,919.6 809.6,923.0 819.8,923.0 830.1,924.3 840.3,928.4 850.5,932.5 860.7,931.9 874.3,931.9 891.4,931.1 908.4,931.9 918.6,930.5 920.0,930.5 930.2,925.7 940.4,920.3 950.6,916.2 959.2,913.5 971.1,913.5 979.6,916.2 988.1,919.6 996.6,923.0 1005.1,921.6 1011.9,918.9 1018.8,917.3 1030.7,918.3 1039.2,919.6 1049.4,921.6 1059.6,925.1 1069.8,928.4 1080.1,931.1 1090.3,931.9 1100.5,931.9 1100.0,931.6 1119.6,930.5 1132.7,927.4 1145.8,924.7 1158.9,924.3 1172.0,922.2 1185.1,920.6 1198.2,921.1 1211.3,924.3 1224.4,927.4 1237.5,929.0 1248.0,927.9 1257.2,924.3 1270.3,922.2 1288.6,921.1" fill="none" stroke="#00ffff" stroke-width="4.2" stroke-linejoin="round" stroke-dasharray="11.9 3.5"/>
<polyline points="118.4,917.1 187.5,915.6 204.3,917.5 256.7,920.2 298.6,920.8 340.5,920.2 382.4,918.7 420.0,917.7 445.5,918.6 467.7,917.4 479.6,915.1 488.1,911.2 496.6,910.9 505.1,911.7 513.6,915.1 525.6,916.9 539.2,921.1 549.4,931.3 556.2,938.1 564.7,942.4 573.2,944.1 583.5,945.8 592.0,943.2 600.5,938.1 609.0,931.3 617.5,924.5 627.7,916.0 637.9,905.8 648.2,899.0 658.4,893.9 666.9,889.6 670.0,889.6 678.5,890.5 687.0,893.9 697.2,898.1 709.2,899.0 721.1,903.2 729.6,905.8 738.1,903.2 748.3,902.7 758.5,905.8 768.8,910.9 780.7,913.4 789.2,915.1 799.4,920.3 809.6,924.5 819.8,924.5 830.1,926.2 840.3,931.3 850.5,936.4 860.7,935.6 874.3,935.6 891.4,934.7 908.4,935.6 918.6,933.9 920.0,933.9 930.2,927.9 940.4,921.1 950.6,916.0 959.2,912.6 971.1,912.6 979.6,916.0 988.1,920.3 996.6,924.5 1005.1,922.8 1011.9,919.4 1018.8,917.4 1030.7,918.6 1039.2,920.3 1049.4,922.8 1059.6,927.1 1069.8,931.3 1080.1,934.7 1090.3,935.6 1100.5,935.6 1100.0,935.3 1119.6,933.9 1132.7,930.0 1145.8,926.7 1158.9,926.1 1172.0,923.5 1185.1,921.5 1198.2,922.2 1211.3,926.1 1224.4,930.0 1237.5,932.0 1248.0,930.7 1257.2,926.1 1270.3,923.5 1288.6,922.2" fill="none" stroke="#ff00ff" stroke-width="4.2" stroke-linejoin="round" stroke-dasharray="11.9 3.5"/>
</g>
<text x="110.87" y="1079.40" font-size="26.3" transform="translate(110.87 0) scale(0.9550 1) translate(-110.87 0)">0</text>
<text x="399.49" y="1079.40" font-size="26.3" transform="translate(399.49 0) scale(0.9550 1) translate(-399.49 0)">5</text>
<text x="680.58" y="1079.40" font-size="26.3" textLength="27.94" lengthAdjust="spacingAndGlyphs">10</text>
<text x="969.20" y="1079.40" font-size="26.3" textLength="27.94" lengthAdjust="spacingAndGlyphs">15</text>
<text x="1258.01" y="1079.40" font-size="26.3" textLength="27.94" lengthAdjust="spacingAndGlyphs">20</text>
<text x="1546.63" y="1079.40" font-size="26.3" textLength="27.94" lengthAdjust="spacingAndGlyphs">25</text>
<text x="60.48" y="791.10" font-size="26.3" textLength="48.88" lengthAdjust="spacingAndGlyphs">0.01</text>
<text x="46.41" y="856.80" font-size="26.3" textLength="62.85" lengthAdjust="spacingAndGlyphs">0.005</text>
<text x="95.14" y="924.40" font-size="26.3" transform="translate(95.14 0) scale(0.9550 1) translate(-95.14 0)">0</text>
<text x="38.00" y="990.00" font-size="26.3" textLength="71.22" lengthAdjust="spacingAndGlyphs">-0.005</text>
<text x="52.06" y="1057.70" font-size="26.3" textLength="57.25" lengthAdjust="spacingAndGlyphs">-0.01</text>
<rect x="1289.3" y="797.4" width="259.20" height="223.20" fill="#fff" stroke="#000" stroke-width="3.4"/>
<line x1="1304.2" y1="818.30" x2="1382.2" y2="818.30" stroke="#0000ff" stroke-width="4.2"/>
<text x="1388.97" y="828.10" font-size="26.3" textLength="129.67" lengthAdjust="spacingAndGlyphs">Earthquake</text>
<line x1="1304.2" y1="855.00" x2="1382.2" y2="855.00" stroke="#ff0000" stroke-width="4.2" stroke-dasharray="12 3.7"/>
<text x="1388.98" y="862.90" font-size="26.3" textLength="112.89" lengthAdjust="spacingAndGlyphs">D Ratio=0</text>
<line x1="1304.2" y1="889.70" x2="1382.2" y2="889.70" stroke="#00ff00" stroke-width="4.2" stroke-dasharray="12 3.7"/>
<text x="1388.98" y="899.20" font-size="26.3" textLength="147.82" lengthAdjust="spacingAndGlyphs">D Ratio=0.05</text>
<line x1="1304.2" y1="926.40" x2="1382.2" y2="926.40" stroke="#ff8000" stroke-width="4.2" stroke-dasharray="12 3.7"/>
<text x="1389.02" y="935.30" font-size="26.3" textLength="131.67" lengthAdjust="spacingAndGlyphs">D Ratio=0.1</text>
<line x1="1304.2" y1="961.50" x2="1382.2" y2="961.50" stroke="#00ffff" stroke-width="4.2" stroke-dasharray="12 3.7"/>
<text x="1388.98" y="972.10" font-size="26.3" textLength="147.82" lengthAdjust="spacingAndGlyphs">D Ratio=0.15</text>
<line x1="1304.2" y1="997.80" x2="1382.2" y2="997.80" stroke="#ff00ff" stroke-width="4.2" stroke-dasharray="12 3.7"/>
<text x="1388.97" y="1007.70" font-size="26.3" textLength="134.77" lengthAdjust="spacingAndGlyphs">D Ratio=0.2</text>
<text x="717.80" y="18.30" font-size="26.3" textLength="240.23" lengthAdjust="spacingAndGlyphs">Acceleration Diagram</text>
<text x="800.82" y="369.40" font-size="26.3" textLength="69.33" lengthAdjust="spacingAndGlyphs">time-s</text>
<text x="741.52" y="390.40" font-size="26.3" textLength="191.44" lengthAdjust="spacingAndGlyphs">Velocity Diagram</text>
<text x="800.82" y="740.70" font-size="26.3" textLength="69.33" lengthAdjust="spacingAndGlyphs">time-s</text>
<text x="709.04" y="761.70" font-size="26.3" textLength="254.55" lengthAdjust="spacingAndGlyphs">Displacement Diagram</text>
<text x="800.82" y="1112.10" font-size="26.3" textLength="69.33" lengthAdjust="spacingAndGlyphs">time-s</text>
<text transform="translate(67.00 274.25) rotate(-90)" font-size="26.3" textLength="188.44" lengthAdjust="spacingAndGlyphs">Acceleration-m/s</text>
<text transform="translate(53.80 85.31) rotate(-90) scale(0.962 1)" font-size="21">2</text>
<text transform="translate(31.50 619.33) rotate(-90)" font-size="26.3" textLength="140.45" lengthAdjust="spacingAndGlyphs">Velocity-m/s</text>
<text transform="translate(18.60 1010.01) rotate(-90)" font-size="26.3" textLength="181.63" lengthAdjust="spacingAndGlyphs">Displacement-m</text>
<g stroke="#000" stroke-width="3.4" fill="none" clip-path="url(#c4)">
<line x1="384.80" y1="1730.80" x2="384.80" y2="1294.40" stroke-dasharray="9.7 8.5"/>
<line x1="384.80" y1="1294.40" x2="384.80" y2="1304.60"/>
<line x1="384.80" y1="1730.00" x2="384.80" y2="1719.80"/>
<line x1="491.20" y1="1730.80" x2="491.20" y2="1294.40" stroke-dasharray="9.7 8.5"/>
<line x1="491.20" y1="1294.40" x2="491.20" y2="1304.60"/>
<line x1="491.20" y1="1730.00" x2="491.20" y2="1719.80"/>
<line x1="597.60" y1="1730.80" x2="597.60" y2="1294.40" stroke-dasharray="9.7 8.5"/>
<line x1="597.60" y1="1294.40" x2="597.60" y2="1304.60"/>
<line x1="597.60" y1="1730.00" x2="597.60" y2="1719.80"/>
<line x1="702.20" y1="1730.80" x2="702.20" y2="1294.40" stroke-dasharray="9.7 8.5"/>
<line x1="702.20" y1="1294.40" x2="702.20" y2="1304.60"/>
<line x1="702.20" y1="1730.00" x2="702.20" y2="1719.80"/>
<line x1="808.50" y1="1730.80" x2="808.50" y2="1294.40" stroke-dasharray="9.7 8.5"/>
<line x1="808.50" y1="1294.40" x2="808.50" y2="1304.60"/>
<line x1="808.50" y1="1730.00" x2="808.50" y2="1719.80"/>
<line x1="914.40" y1="1730.80" x2="914.40" y2="1294.40" stroke-dasharray="9.7 8.5"/>
<line x1="914.40" y1="1294.40" x2="914.40" y2="1304.60"/>
<line x1="914.40" y1="1730.00" x2="914.40" y2="1719.80"/>
<line x1="1018.80" y1="1730.80" x2="1018.80" y2="1294.40" stroke-dasharray="9.7 8.5"/>
<line x1="1018.80" y1="1294.40" x2="1018.80" y2="1304.60"/>
<line x1="1018.80" y1="1730.00" x2="1018.80" y2="1719.80"/>
<line x1="1125.20" y1="1730.80" x2="1125.20" y2="1294.40" stroke-dasharray="9.7 8.5"/>
<line x1="1125.20" y1="1294.40" x2="1125.20" y2="1304.60"/>
<line x1="1125.20" y1="1730.00" x2="1125.20" y2="1719.80"/>
<line x1="1231.40" y1="1730.80" x2="1231.40" y2="1294.40" stroke-dasharray="9.7 8.5"/>
<line x1="1231.40" y1="1294.40" x2="1231.40" y2="1304.60"/>
<line x1="1231.40" y1="1730.00" x2="1231.40" y2="1719.80"/>
<line x1="280.70" y1="1296.00" x2="1338.40" y2="1296.00" stroke-dasharray="9.7 8.5"/>
<line x1="280.70" y1="1296.00" x2="290.90" y2="1296.00"/>
<line x1="1338.40" y1="1296.00" x2="1328.20" y2="1296.00"/>
<line x1="280.70" y1="1358.00" x2="1338.40" y2="1358.00" stroke-dasharray="9.7 8.5"/>
<line x1="280.70" y1="1358.00" x2="290.90" y2="1358.00"/>
<line x1="1338.40" y1="1358.00" x2="1328.20" y2="1358.00"/>
<line x1="280.70" y1="1420.20" x2="1338.40" y2="1420.20" stroke-dasharray="9.7 8.5"/>
<line x1="280.70" y1="1420.20" x2="290.90" y2="1420.20"/>
<line x1="1338.40" y1="1420.20" x2="1328.20" y2="1420.20"/>
<line x1="280.70" y1="1482.20" x2="1338.40" y2="1482.20" stroke-dasharray="9.7 8.5"/>
<line x1="280.70" y1="1482.20" x2="290.90" y2="1482.20"/>
<line x1="1338.40" y1="1482.20" x2="1328.20" y2="1482.20"/>
<line x1="280.70" y1="1544.60" x2="1338.40" y2="1544.60" stroke-dasharray="9.7 8.5"/>
<line x1="280.70" y1="1544.60" x2="290.90" y2="1544.60"/>
<line x1="1338.40" y1="1544.60" x2="1328.20" y2="1544.60"/>
<line x1="280.70" y1="1606.40" x2="1338.40" y2="1606.40" stroke-dasharray="9.7 8.5"/>
<line x1="280.70" y1="1606.40" x2="290.90" y2="1606.40"/>
<line x1="1338.40" y1="1606.40" x2="1328.20" y2="1606.40"/>
<line x1="280.70" y1="1668.40" x2="1338.40" y2="1668.40" stroke-dasharray="9.7 8.5"/>
<line x1="280.70" y1="1668.40" x2="290.90" y2="1668.40"/>
<line x1="1338.40" y1="1668.40" x2="1328.20" y2="1668.40"/>
<line x1="280.70" y1="1730.40" x2="1338.40" y2="1730.40" stroke-dasharray="9.7 8.5"/>
<line x1="280.70" y1="1730.40" x2="290.90" y2="1730.40"/>
<line x1="1338.40" y1="1730.40" x2="1328.20" y2="1730.40"/>
</g>
<rect x="280.7" y="1294.4" width="1057.70" height="435.60" fill="none" stroke="#000" stroke-width="3.4"/>
<g clip-path="url(#c4)">
<polyline points="281.5,1728.1 286.1,1724.4 289.8,1711.5 293.5,1712.4 295.3,1707.8 298.1,1694.9 300.0,1700.5 302.7,1686.7 305.5,1711.5 308.3,1678.4 312.9,1715.2 314.7,1691.3 316.6,1688.5 319.4,1663.7 322.7,1656.3 324.9,1665.5 327.7,1702.3 329.5,1704.1 330.5,1657.2 334.1,1706.0 336.9,1682.1 338.8,1712.4 339.7,1658.1 342.5,1652.6 345.2,1707.8 348.0,1658.1 348.9,1601.1 350.8,1601.1 353.6,1708.7 356.3,1639.7 359.1,1602.9 359.1,1510.9 362.8,1488.8 366.5,1540.3 368.3,1602.9 370.2,1670.1 371.1,1610.3 373.0,1594.6 374.8,1614.0 376.3,1601.1 378.5,1704.1 379.4,1650.8 381.3,1556.9 383.1,1548.6 385.0,1573.5 385.9,1641.6 387.8,1645.2 390.5,1636.0 393.3,1608.4 395.1,1689.4 397.9,1639.7 400.7,1562.4 403.5,1480.5 405.3,1492.5 407.2,1478.7 409.9,1492.5 410.9,1614.9 412.7,1602.9 414.6,1474.1 417.0,1309.3 419.2,1437.3 421.0,1593.7 422.9,1400.4 424.7,1299.2 426.6,1323.1 428.4,1404.1 430.3,1455.7 432.1,1534.8 434.0,1452.0 435.8,1444.6 436.7,1601.1 439.1,1437.3 441.4,1492.5 442.3,1617.6 444.1,1553.2 446.9,1551.4 448.8,1619.5 450.6,1498.0 452.4,1663.7 455.2,1602.9 457.1,1418.8 458.9,1325.0 461.7,1336.0 463.5,1437.3 465.4,1507.2 466.8,1455.7 468.7,1437.3 470.5,1485.1 472.0,1418.8 473.3,1313.0 475.2,1363.6 476.1,1455.7 477.0,1566.1 477.9,1722.6 478.9,1621.3 480.7,1538.5 482.6,1510.9 485.0,1507.2 486.3,1534.8 487.2,1564.3 490.0,1569.8 492.7,1601.1 494.6,1520.1 496.4,1450.1 497.3,1417.0 499.2,1455.7 501.0,1561.5 502.9,1492.5 505.1,1484.2 506.6,1547.7 508.4,1630.5 510.3,1626.8 512.1,1621.3 514.0,1623.2 515.8,1612.1 517.7,1547.7 518.6,1481.4 521.4,1478.7 523.2,1520.1 525.1,1582.7 526.9,1547.7 528.8,1471.3 531.5,1483.3 533.4,1547.7 534.3,1676.5 536.2,1688.5 538.0,1685.7 538.9,1621.3 540.8,1560.6 542.6,1584.5 544.5,1606.6 547.3,1608.4 549.1,1621.3 551.0,1643.4 553.4,1632.4 555.2,1667.3 556.5,1648.9 559.3,1626.8 561.1,1639.7 563.9,1658.1 565.7,1639.7 567.6,1628.7 569.4,1639.7 571.3,1658.1 574.1,1676.5 575.9,1694.9 578.7,1708.7 580.5,1718.5 582.4,1708.7 585.1,1674.7 587.0,1707.5 589.8,1706.0 591.6,1655.4 593.5,1652.6 595.3,1661.8 597.2,1678.4 599.9,1680.2 600.9,1645.2 603.6,1644.3 604.6,1676.5 607.3,1697.7 609.2,1674.7 612.0,1663.7 614.7,1666.4 617.5,1678.4 620.3,1669.2 623.0,1703.2 625.8,1711.5 627.7,1725.3 630.4,1694.9 633.2,1667.3 635.4,1647.1 637.8,1685.7 639.7,1687.6 641.5,1667.3 643.4,1678.4 646.1,1711.5 648.9,1685.7 651.7,1673.8 653.5,1676.5 655.0,1674.9 657.4,1718.9 659.7,1681.2 662.1,1684.3 663.6,1711.0 666.0,1681.2 668.4,1709.4 669.9,1671.7 672.0,1655.2 673.1,1678.0 674.6,1720.5 677.0,1685.9 680.1,1720.5 682.5,1678.0 684.1,1659.2 685.6,1678.0 686.4,1704.7 689.6,1684.3 690.4,1706.3 692.7,1714.2 694.3,1724.4 696.7,1715.7 698.2,1690.6 700.6,1684.3 702.2,1678.0 704.5,1659.9 706.9,1663.9 709.2,1707.9 711.6,1696.9 713.2,1657.6 715.5,1653.7 717.9,1676.4 719.4,1656.0 721.8,1656.8 724.2,1689.0 726.5,1663.9 729.7,1665.4 732.0,1687.4 734.4,1709.4 735.9,1676.4 739.1,1687.4 739.9,1651.3 742.2,1673.3 744.3,1709.4 746.2,1670.2 748.0,1696.9 750.1,1668.6 751.7,1647.4 754.0,1670.2 756.4,1645.0 757.9,1624.6 760.3,1619.1 761.9,1643.4 763.8,1672.5 765.8,1667.0 768.2,1646.6 770.2,1635.6 772.1,1646.6 774.4,1676.4 777.6,1675.7 780.0,1693.7 780.7,1712.6 783.1,1695.3 784.2,1715.0 786.2,1704.7 787.8,1696.9 789.4,1695.3 791.7,1665.4 793.3,1626.1 796.5,1626.1 797.2,1637.2 798.8,1644.2 802.0,1641.9 803.5,1645.8 805.1,1642.7 807.1,1656.0 809.0,1671.7 811.4,1678.0 813.7,1686.7 814.5,1659.2 816.9,1624.6 818.5,1619.1 820.8,1630.9 822.4,1652.9 824.0,1678.0 825.5,1711.0 826.6,1716.5 827.9,1701.6 831.0,1700.8 832.6,1690.6 834.2,1665.4 836.5,1659.2 838.1,1706.3 840.5,1715.0 842.0,1700.0 843.6,1663.9 845.2,1649.7 846.7,1649.7 848.3,1678.0 850.7,1689.0 853.0,1684.3 855.4,1679.6 857.0,1652.9 859.3,1630.9 860.9,1619.1 862.5,1640.3 864.0,1671.7 864.8,1696.9 866.4,1698.4 868.8,1693.7 871.9,1687.4 873.5,1659.2 875.0,1641.9 876.6,1625.4 879.0,1630.9 880.5,1652.9 882.9,1674.9 884.5,1656.0 885.0,1652.9 886.9,1635.6 888.9,1641.9 891.3,1652.9 893.6,1660.7 895.2,1684.3 896.8,1700.8 899.1,1700.0 900.7,1684.3 902.3,1677.2 904.6,1684.3 906.2,1700.8 908.6,1678.0 910.1,1671.7 912.5,1681.2 914.1,1700.0 915.6,1707.1 918.0,1703.2 919.6,1690.6 921.9,1685.9 924.3,1693.7 927.4,1692.9 929.8,1685.9 931.4,1676.4 932.9,1671.7 935.3,1679.6 938.4,1687.4 940.0,1703.2 940.8,1720.5 944.7,1720.5 945.5,1703.2 947.1,1697.7 949.4,1703.2 951.8,1706.3 954.2,1715.0 956.5,1700.0 958.9,1693.7 961.2,1700.0 963.6,1703.9 966.7,1704.7 969.1,1712.6 971.4,1707.9 973.8,1718.9 975.4,1720.5 976.9,1696.9 979.3,1693.7 981.7,1698.4 984.0,1704.7 986.4,1712.6 987.9,1694.5 991.1,1694.5 992.7,1711.0 994.2,1698.4 997.4,1698.4 998.9,1712.6 1001.3,1703.2 1004.4,1703.2 1006.8,1709.4 1009.2,1715.7 1010.7,1724.4 1013.1,1715.7 1014.7,1696.9 1017.0,1681.2 1018.6,1690.6 1020.2,1712.6 1021.7,1704.7 1024.9,1703.9 1025.7,1715.7 1027.2,1723.6 1030.4,1718.9 1032.7,1718.9 1035.1,1714.2 1037.5,1715.7 1039.8,1720.5 1042.2,1724.4 1043.7,1709.4 1045.3,1698.4 1048.5,1695.3 1050.0,1707.9 1052.4,1698.4 1055.5,1700.0 1057.9,1705.5 1062.6,1706.3 1066.5,1711.0 1069.7,1712.6 1071.2,1724.4 1073.6,1718.9 1076.0,1714.2 1079.1,1711.0 1080.7,1722.0 1083.0,1717.3 1085.4,1711.0 1089.3,1707.9 1092.5,1714.2 1095.6,1707.9 1097.2,1714.2 1098.8,1723.6 1102.7,1725.2 1105.0,1720.5 1108.2,1717.3 1110.5,1723.6 1112.9,1715.7 1115.0,1715.9 1117.4,1710.4 1119.7,1715.1 1124.4,1714.3 1126.8,1706.4 1129.1,1704.1 1131.5,1708.8 1133.9,1712.7 1135.4,1720.6 1137.8,1725.3 1140.1,1720.6 1141.7,1714.3 1144.1,1712.7 1145.6,1704.9 1147.7,1701.7 1149.6,1712.7 1151.9,1719.0 1154.3,1708.0 1156.2,1705.7 1159.0,1712.7 1161.4,1722.2 1165.3,1722.9 1168.4,1725.3 1171.6,1722.2 1173.2,1714.3 1175.5,1715.9 1177.9,1723.7 1180.2,1712.7 1181.8,1711.2 1184.2,1723.7 1186.5,1714.3 1188.9,1720.6 1192.0,1722.9 1195.2,1720.6 1199.9,1720.6 1202.2,1714.3 1205.4,1707.2 1207.7,1723.7 1210.9,1714.3 1213.2,1708.0 1215.6,1705.7 1217.9,1712.7 1220.3,1715.9 1222.7,1707.2 1225.0,1711.2 1227.4,1720.6 1230.5,1724.5 1233.7,1722.2 1236.0,1718.2 1239.2,1715.9 1241.5,1711.9 1243.9,1718.2 1246.2,1709.6 1249.4,1708.0 1251.0,1717.4 1253.3,1723.7 1255.7,1715.9 1259.6,1714.3 1263.5,1713.5 1265.9,1720.6 1269.0,1724.5 1271.4,1720.6 1272.2,1711.9 1275.3,1711.2 1278.5,1707.2 1280.8,1714.3 1283.2,1712.7 1285.5,1720.6 1287.9,1722.9 1291.0,1722.2 1294.2,1724.5 1298.9,1720.6 1302.8,1722.2 1306.0,1715.9 1309.1,1720.6 1311.5,1724.5 1316.2,1720.6 1319.3,1722.2 1323.3,1715.9 1326.4,1719.0 1330.3,1723.7 1333.5,1720.6 1336.6,1720.6" fill="none" stroke="#0000ff" stroke-width="4.3" stroke-linejoin="round"/>
<polyline points="280.9,1729.4 286.8,1729.2 292.7,1728.6 298.6,1728.7 304.5,1728.3 310.4,1728.4 314.3,1729.0 320.2,1728.5 328.0,1728.6 333.9,1728.9 341.8,1728.7 349.7,1728.4 353.6,1728.7 357.5,1728.1 361.4,1727.4 365.4,1727.7 369.3,1728.6 375.2,1728.4 381.1,1728.3 387.0,1728.7 392.9,1729.0 398.8,1728.6 402.7,1728.0 408.6,1728.1 412.5,1727.8 416.5,1727.3 420.4,1728.1 425.3,1727.3 429.2,1727.9 434.1,1728.4 440.0,1728.6 445.9,1728.7 453.8,1728.5 459.7,1728.0 464.6,1728.4 469.5,1728.3 473.4,1728.0 477.4,1728.9 483.3,1729.1 491.1,1728.9 497.0,1728.5 502.9,1728.9 510.8,1729.1 518.6,1728.7 524.5,1729.0 530.4,1728.7 536.3,1729.2 550.0,1729.2 559.9,1729.1 569.7,1729.3 575.0,1729.4 600.0,1729.4 1338.2,1729.4" fill="none" stroke="#ff0000" stroke-width="4.0" stroke-linejoin="round"/>
<polyline points="280.9,1729.2 286.8,1728.5 292.7,1727.0 298.6,1727.3 304.5,1726.0 310.4,1726.4 314.3,1727.9 320.2,1726.7 328.0,1727.0 333.9,1727.6 341.8,1727.3 349.7,1726.4 353.6,1727.3 357.5,1725.7 361.4,1723.7 365.4,1724.5 369.3,1727.0 375.2,1726.4 381.1,1726.0 387.0,1727.3 392.9,1727.9 398.8,1727.0 402.7,1725.4 408.6,1725.7 412.5,1724.8 416.5,1723.5 420.4,1725.7 425.3,1723.5 429.2,1725.1 434.1,1726.4 440.0,1727.0 445.9,1727.3 453.8,1726.7 459.7,1725.4 464.6,1726.4 469.5,1726.0 473.4,1725.4 477.4,1727.6 483.3,1728.3 491.1,1727.6 497.0,1726.7 502.9,1727.6 510.8,1728.3 518.6,1727.3 524.5,1727.9 530.4,1727.3 536.3,1728.5 550.0,1728.5 559.9,1728.4 569.7,1728.9 575.0,1729.1 600.0,1729.2 1338.2,1729.2" fill="none" stroke="#00ff00" stroke-width="4.0" stroke-linejoin="round"/>
<polyline points="280.9,1728.9 286.8,1727.9 292.7,1725.3 298.6,1725.9 304.5,1723.8 310.4,1724.3 314.3,1726.9 320.2,1724.9 328.0,1725.3 333.9,1726.4 341.8,1725.9 349.7,1724.3 353.6,1725.9 357.5,1723.3 361.4,1720.0 365.4,1721.3 369.3,1725.3 375.2,1724.3 381.1,1723.8 387.0,1725.9 392.9,1726.9 398.8,1725.3 402.7,1722.8 408.6,1723.3 412.5,1721.8 416.5,1719.7 420.4,1723.3 425.3,1719.7 429.2,1722.3 434.1,1724.3 440.0,1725.3 445.9,1725.9 453.8,1724.9 459.7,1722.8 464.6,1724.3 469.5,1723.8 473.4,1722.8 477.4,1726.4 483.3,1727.4 491.1,1726.4 497.0,1724.9 502.9,1726.4 510.8,1727.4 518.6,1725.9 524.5,1726.9 530.4,1725.9 536.3,1727.9 550.0,1727.9 559.9,1727.6 569.7,1728.4 575.0,1728.7 600.0,1728.9 1338.2,1728.9" fill="none" stroke="#ff8000" stroke-width="4.0" stroke-linejoin="round"/>
<polyline points="280.9,1728.6 286.8,1727.2 292.7,1723.7 298.6,1724.4 304.5,1721.6 310.4,1722.3 314.3,1725.9 320.2,1723.0 328.0,1723.7 333.9,1725.1 341.8,1724.4 349.7,1722.3 353.6,1724.4 357.5,1720.9 361.4,1716.4 365.4,1718.1 369.3,1723.7 375.2,1722.3 381.1,1721.6 387.0,1724.4 392.9,1725.9 398.8,1723.7 402.7,1720.2 408.6,1720.9 412.5,1718.8 416.5,1715.9 420.4,1720.9 425.3,1715.9 429.2,1719.4 434.1,1722.3 440.0,1723.7 445.9,1724.4 453.8,1723.0 459.7,1720.2 464.6,1722.3 469.5,1721.6 473.4,1720.2 477.4,1725.1 483.3,1726.6 491.1,1725.1 497.0,1723.0 502.9,1725.1 510.8,1726.6 518.6,1724.4 524.5,1725.9 530.4,1724.4 536.3,1727.2 550.0,1727.2 559.9,1726.9 569.7,1727.9 575.0,1728.4 600.0,1728.6 1338.2,1728.6" fill="none" stroke="#00ffff" stroke-width="4.0" stroke-linejoin="round"/>
<polyline points="280.9,1728.2 286.8,1726.3 292.7,1721.4 298.6,1722.4 304.5,1718.5 310.4,1719.5 314.3,1724.4 320.2,1720.5 328.0,1721.4 333.9,1723.4 341.8,1722.4 349.7,1719.5 353.6,1722.4 357.5,1717.5 361.4,1711.2 365.4,1713.6 369.3,1721.4 375.2,1719.5 381.1,1718.5 387.0,1722.4 392.9,1724.4 398.8,1721.4 402.7,1716.5 408.6,1717.5 412.5,1714.6 416.5,1710.6 420.4,1717.5 425.3,1710.6 429.2,1715.5 434.1,1719.5 440.0,1721.4 445.9,1722.4 453.8,1720.5 459.7,1716.5 464.6,1719.5 469.5,1718.5 473.4,1716.5 477.4,1723.4 483.3,1725.4 491.1,1723.4 497.0,1720.5 502.9,1723.4 510.8,1725.4 518.6,1722.4 524.5,1724.4 530.4,1722.4 536.3,1726.3 550.0,1726.3 559.9,1725.8 569.7,1727.3 575.0,1727.9 600.0,1728.2 1338.2,1728.2" fill="none" stroke="#ff00ff" stroke-width="4.6" stroke-linejoin="round"/>
</g>
<text x="274.47" y="1759.70" font-size="26.3" transform="translate(274.47 0) scale(0.9550 1) translate(-274.47 0)">0</text>
<text x="380.30" y="1759.70" font-size="26.3" transform="translate(380.30 0) scale(0.9550 1) translate(-380.30 0)">2</text>
<text x="486.20" y="1759.70" font-size="26.3" transform="translate(486.20 0) scale(0.9550 1) translate(-486.20 0)">4</text>
<text x="591.71" y="1759.70" font-size="26.3" transform="translate(591.71 0) scale(0.9550 1) translate(-591.71 0)">6</text>
<text x="697.55" y="1759.70" font-size="26.3" transform="translate(697.55 0) scale(0.9550 1) translate(-697.55 0)">8</text>
<text x="795.91" y="1759.70" font-size="26.3" textLength="27.94" lengthAdjust="spacingAndGlyphs">10</text>
<text x="901.87" y="1759.70" font-size="26.3" textLength="27.94" lengthAdjust="spacingAndGlyphs">12</text>
<text x="1007.39" y="1759.70" font-size="26.3" textLength="27.94" lengthAdjust="spacingAndGlyphs">14</text>
<text x="1113.28" y="1759.70" font-size="26.3" textLength="27.94" lengthAdjust="spacingAndGlyphs">16</text>
<text x="1219.05" y="1759.70" font-size="26.3" textLength="27.94" lengthAdjust="spacingAndGlyphs">18</text>
<text x="1325.07" y="1759.70" font-size="26.3" textLength="27.94" lengthAdjust="spacingAndGlyphs">20</text>
<text x="223.70" y="1303.60" font-size="26.3" textLength="48.88" lengthAdjust="spacingAndGlyphs">0.07</text>
<text x="223.45" y="1365.60" font-size="26.3" textLength="48.88" lengthAdjust="spacingAndGlyphs">0.06</text>
<text x="223.45" y="1427.80" font-size="26.3" textLength="48.88" lengthAdjust="spacingAndGlyphs">0.05</text>
<text x="223.20" y="1489.80" font-size="26.3" textLength="48.88" lengthAdjust="spacingAndGlyphs">0.04</text>
<text x="223.45" y="1552.20" font-size="26.3" textLength="48.88" lengthAdjust="spacingAndGlyphs">0.03</text>
<text x="223.70" y="1614.00" font-size="26.3" textLength="48.88" lengthAdjust="spacingAndGlyphs">0.02</text>
<text x="223.58" y="1676.00" font-size="26.3" textLength="48.88" lengthAdjust="spacingAndGlyphs">0.01</text>
<text x="258.24" y="1738.00" font-size="26.3" transform="translate(258.24 0) scale(0.9550 1) translate(-258.24 0)">0</text>
<rect x="1039.4" y="1310.1" width="286.80" height="230.40" fill="#fff" stroke="#000" stroke-width="3.4"/>
<line x1="1054.5" y1="1331.90" x2="1135.8" y2="1331.90" stroke="#0000ff" stroke-width="4.2"/>
<text x="1143.81" y="1341.20" font-size="26.3" textLength="170.66" lengthAdjust="spacingAndGlyphs">Ground motion</text>
<line x1="1054.5" y1="1369.70" x2="1135.8" y2="1369.70" stroke="#ff0000" stroke-width="4.2"/>
<text x="1143.04" y="1378.00" font-size="26.3" textLength="154.03" lengthAdjust="spacingAndGlyphs">Damping=0.0</text>
<line x1="1054.5" y1="1406.30" x2="1135.8" y2="1406.30" stroke="#00ff00" stroke-width="4.2"/>
<text x="1143.04" y="1415.20" font-size="26.3" textLength="168.37" lengthAdjust="spacingAndGlyphs">Damping=0.05</text>
<line x1="1054.5" y1="1444.30" x2="1135.8" y2="1444.30" stroke="#ff8000" stroke-width="4.2"/>
<text x="1143.04" y="1453.20" font-size="26.3" textLength="154.03" lengthAdjust="spacingAndGlyphs">Damping=0.1</text>
<line x1="1054.5" y1="1480.40" x2="1135.8" y2="1480.40" stroke="#00ffff" stroke-width="4.2"/>
<text x="1143.04" y="1490.40" font-size="26.3" textLength="168.37" lengthAdjust="spacingAndGlyphs">Damping=0.15</text>
<line x1="1054.5" y1="1518.30" x2="1135.8" y2="1518.30" stroke="#ff00ff" stroke-width="4.2"/>
<text x="1143.04" y="1527.20" font-size="26.3" textLength="154.03" lengthAdjust="spacingAndGlyphs">Damping=0.2</text>
<text x="725.06" y="1274.00" font-size="26.3" textLength="162.67" lengthAdjust="spacingAndGlyphs">FFT Analyses</text>
<text x="719.11" y="1794.50" font-size="26.3" textLength="172.74" lengthAdjust="spacingAndGlyphs">Frequency(Hz)</text>
<text transform="translate(200.20 1572.25) rotate(-90)" font-size="26.3" textLength="116.73" lengthAdjust="spacingAndGlyphs">Amplitude</text>
<g stroke="#000" stroke-width="3.4" fill="none" clip-path="url(#c5)">
<line x1="491.00" y1="2348.80" x2="491.00" y2="1916.80" stroke-dasharray="9.7 8.5"/>
<line x1="491.00" y1="1916.80" x2="491.00" y2="1927.00"/>
<line x1="491.00" y1="2348.00" x2="491.00" y2="2337.80"/>
<line x1="702.20" y1="2348.80" x2="702.20" y2="1916.80" stroke-dasharray="9.7 8.5"/>
<line x1="702.20" y1="1916.80" x2="702.20" y2="1927.00"/>
<line x1="702.20" y1="2348.00" x2="702.20" y2="2337.80"/>
<line x1="914.40" y1="2348.80" x2="914.40" y2="1916.80" stroke-dasharray="9.7 8.5"/>
<line x1="914.40" y1="1916.80" x2="914.40" y2="1927.00"/>
<line x1="914.40" y1="2348.00" x2="914.40" y2="2337.80"/>
<line x1="1125.00" y1="2348.80" x2="1125.00" y2="1916.80" stroke-dasharray="9.7 8.5"/>
<line x1="1125.00" y1="1916.80" x2="1125.00" y2="1927.00"/>
<line x1="1125.00" y1="2348.00" x2="1125.00" y2="2337.80"/>
<line x1="280.70" y1="1988.70" x2="1338.40" y2="1988.70" stroke-dasharray="9.7 8.5"/>
<line x1="280.70" y1="1988.70" x2="290.90" y2="1988.70"/>
<line x1="1338.40" y1="1988.70" x2="1328.20" y2="1988.70"/>
<line x1="280.70" y1="2060.90" x2="1338.40" y2="2060.90" stroke-dasharray="9.7 8.5"/>
<line x1="280.70" y1="2060.90" x2="290.90" y2="2060.90"/>
<line x1="1338.40" y1="2060.90" x2="1328.20" y2="2060.90"/>
<line x1="280.70" y1="2132.80" x2="1338.40" y2="2132.80" stroke-dasharray="9.7 8.5"/>
<line x1="280.70" y1="2132.80" x2="290.90" y2="2132.80"/>
<line x1="1338.40" y1="2132.80" x2="1328.20" y2="2132.80"/>
<line x1="280.70" y1="2204.60" x2="1338.40" y2="2204.60" stroke-dasharray="9.7 8.5"/>
<line x1="280.70" y1="2204.60" x2="290.90" y2="2204.60"/>
<line x1="1338.40" y1="2204.60" x2="1328.20" y2="2204.60"/>
<line x1="280.70" y1="2276.70" x2="1338.40" y2="2276.70" stroke-dasharray="9.7 8.5"/>
<line x1="280.70" y1="2276.70" x2="290.90" y2="2276.70"/>
<line x1="1338.40" y1="2276.70" x2="1328.20" y2="2276.70"/>
</g>
<rect x="280.7" y="1916.8" width="1057.70" height="431.20" fill="none" stroke="#000" stroke-width="3.4"/>
<g clip-path="url(#c5)">
<polyline points="281.7,2274.5 442.0,2273.9 475.4,2272.3 497.7,2273.0 519.9,2272.3 564.5,2271.2 577.8,2269.6 577.5,2270.3 583.5,2261.5 589.3,2252.8 592.4,2251.6 590.1,2247.2 594.1,2244.1 598.2,2242.9 595.1,2238.5 598.7,2235.4 603.0,2234.1 599.8,2229.8 602.2,2226.7 607.4,2225.4 603.4,2221.1 605.6,2217.9 612.6,2216.7 607.3,2212.3 610.6,2209.2 618.6,2208.0 612.5,2203.6 614.9,2200.5 624.7,2199.3 617.2,2194.9 617.7,2191.8 628.8,2190.5 620.5,2186.2 620.4,2183.1 632.2,2181.8 623.2,2177.5 622.1,2174.3 634.1,2173.1 625.0,2168.7 623.8,2165.6 635.8,2164.4 626.7,2160.0 625.8,2156.9 637.4,2155.7 628.6,2151.3 628.2,2148.2 639.3,2146.9 630.8,2142.6 630.2,2139.5 641.4,2138.2 632.9,2133.9 631.6,2130.7 643.8,2129.5 634.4,2125.1 632.8,2122.0 647.7,2120.8 636.4,2116.4 633.9,2113.3 648.4,2112.1 637.4,2107.7 634.8,2104.6 648.8,2103.3 638.2,2099.0 635.7,2095.9 649.0,2094.6 638.9,2090.3 636.7,2087.1 649.4,2085.9 639.8,2081.5 637.9,2078.4 649.9,2077.2 640.8,2072.8 640.7,2042.0 643.4,1994.3 646.2,2009.0 647.1,2056.7 649.8,2065.9 651.7,2075.0 653.5,2084.2 657.2,2069.5 660.9,2060.4 664.5,2051.2 667.3,2043.9 671.9,2045.7 675.5,2060.4 677.4,2042.0 681.0,2036.5 684.7,2027.4 686.5,2005.3 691.1,1999.8 693.9,2007.2 699.4,2014.5 702.1,2003.5 706.7,2012.7 711.3,2027.4 713.1,1994.3 717.7,1987.0 719.5,1968.7 722.3,1958.6 725.9,1955.8 728.7,1961.3 730.5,1983.3 734.2,1996.2 736.9,2009.0 738.8,2025.5 740.6,2012.7 743.4,1999.8 745.2,2001.7 747.0,2016.4 750.7,2018.2 753.5,2025.5 757.1,2016.4 760.8,2016.4 763.5,1998.0 769.0,1990.7 774.5,1990.7 778.2,1990.7 781.9,1998.0 784.6,1999.8 787.4,1980.6 791.0,1987.0 792.9,1999.8 795.6,1983.3 798.4,1996.2 800.2,2007.2 803.0,2012.7 804.8,2029.2 806.6,2043.9 810.3,2053.0 812.1,2075.0 814.0,2089.7 818.5,2093.4 822.2,2100.7 825.0,2106.2 827.7,2089.7 830.0,2093.4 837.3,2097.0 844.7,2106.2 848.3,2120.9 852.9,2124.5 855.7,2142.9 860.3,2146.5 862.1,2172.2 866.7,2179.5 869.4,2183.2 871.3,2190.5 874.9,2195.1 883.2,2196.0 887.8,2190.5 892.3,2192.4 896.0,2187.8 903.3,2190.5 906.1,2199.7 910.7,2207.1 913.4,2218.1 918.0,2221.7 923.5,2221.7 926.3,2212.6 930.9,2207.1 932.7,2196.0 935.4,2195.1 938.2,2201.6 943.7,2205.2 947.4,2208.9 949.2,2213.5 958.4,2213.5 962.9,2210.7 967.5,2213.5 973.0,2216.2 978.5,2219.9 982.2,2227.2 989.5,2233.6 996.9,2231.8 1002.4,2225.4 1006.9,2220.8 1011.5,2222.6 1015.2,2223.6 1020.7,2221.7 1028.0,2225.4 1031.7,2223.6 1035.4,2227.2 1039.0,2224.5 1043.6,2228.1 1050.0,2229.1 1054.6,2231.8 1059.2,2235.5 1066.5,2235.5 1068.4,2233.6 1072.0,2234.6 1073.9,2232.7 1079.4,2232.7 1085.8,2239.1 1108.7,2239.1" fill="none" stroke="#0000ff" stroke-width="6.5" stroke-linejoin="round"/>
<polyline points="281.7,2274.5 564.5,2272.8 576.5,2270.3 589.7,2255.9 587.9,2252.8 598.3,2239.1 600.0,2236.0 609.6,2220.4 607.9,2217.3 616.4,2205.5 618.1,2202.4 627.1,2191.8 625.3,2188.7 631.3,2174.3 633.1,2171.2 637.1,2154.4 635.3,2151.3 638.2,2133.2 639.9,2130.1 643.3,2112.1 641.5,2108.9 645.0,2094.6 646.8,2091.5 652.0,2080.9 650.3,2077.8 656.3,2068.5 662.7,2060.4 668.2,2049.4 673.7,2045.7 679.2,2040.2 684.7,2036.5 690.2,2032.9 697.5,2033.8 704.9,2036.5 710.4,2040.2 715.9,2031.0 721.4,2022.8 726.9,2023.7 730.5,2029.2 736.0,2031.9 741.5,2030.1 747.0,2032.9 753.5,2034.7 759.9,2029.2 767.2,2026.4 780.0,2026.4 785.5,2029.2 791.0,2028.3 798.4,2025.5 805.7,2026.4 813.0,2022.8 820.4,2021.9 827.7,2020.0 830.0,2020.0 837.3,2012.7 843.8,2003.5 848.3,1998.0 853.8,1993.4 859.3,1988.8 863.9,1985.2 868.5,1985.2 874.9,1978.8 888.7,1978.8 890.5,1976.9 903.3,1976.9 908.8,1971.4 914.3,1969.6 919.8,1968.7 925.3,1972.3 932.7,1975.1 940.0,1971.4 949.2,1968.7 960.2,1968.7 963.9,1970.5 973.0,1970.5 976.7,1968.7 984.0,1965.9 993.2,1965.9 995.9,1964.1 1000.5,1965.9 1022.5,1965.9 1025.3,1964.1 1028.0,1965.9 1048.2,1965.9 1051.9,1964.1 1108.7,1964.1" fill="none" stroke="#0000ff" stroke-width="3.8" stroke-linejoin="round"/>
<polyline points="576.5,2270.5 590.3,2256.6 588.6,2253.5 598.9,2240.4 600.7,2237.3 610.9,2222.3 609.1,2219.2 618.2,2207.4 620.0,2204.2 629.0,2194.3 627.2,2191.2 633.2,2178.1 634.9,2175.0 638.9,2159.4 637.2,2156.3 640.0,2139.5 641.8,2136.3 645.2,2119.5 643.4,2116.4 646.9,2103.3 648.6,2100.2 654.5,2092.1 652.8,2089.0 658.7,2083.4 662.7,2075.0 668.2,2071.4 675.5,2072.3 681.0,2074.1 688.4,2071.4 695.7,2067.7 703.0,2066.8 710.4,2065.9 717.7,2059.4 725.0,2056.7 734.2,2055.8 743.4,2056.7 752.5,2057.6 761.7,2055.8 770.9,2053.9 789.2,2053.9 798.4,2049.4 805.7,2047.5 813.0,2042.0 822.2,2041.1 829.5,2040.2 830.0,2038.4 837.3,2031.0 844.7,2023.7 852.0,2018.2 859.3,2013.6 866.7,2010.9 875.8,2008.1 885.0,2007.2 903.3,2005.3 912.5,2003.5 921.7,2002.6 932.7,2000.8 940.0,1998.9 958.4,1998.9 976.7,1998.9 987.7,1996.2 1013.4,1996.2 1040.9,1996.2 1050.0,1994.7 1108.7,1994.7" fill="none" stroke="#0000ff" stroke-width="6.0" stroke-linejoin="round" stroke-dasharray="18.5 5.3"/>
<polyline points="576.5,2270.8 590.9,2257.2 589.2,2254.1 599.5,2241.6 601.3,2238.5 611.5,2223.6 609.8,2220.4 619.5,2208.6 621.2,2205.5 630.8,2196.1 629.1,2193.0 635.7,2180.6 637.4,2177.5 641.4,2163.1 639.7,2160.0 642.5,2144.4 644.3,2141.3 647.7,2127.0 645.9,2123.9 650.0,2114.5 651.8,2111.4 658.2,2104.6 656.5,2101.5 661.2,2098.4 662.7,2097.0 668.2,2093.4 675.5,2094.3 684.7,2093.4 695.7,2090.6 706.7,2090.6 714.0,2086.0 719.5,2079.6 728.7,2079.6 739.7,2077.8 752.5,2077.8 765.4,2076.9 789.2,2076.9 798.4,2071.4 805.7,2067.7 813.0,2064.9 822.2,2062.2 831.4,2060.4 830.0,2058.5 837.3,2053.0 844.7,2047.5 852.0,2043.9 861.2,2039.3 868.5,2036.5 885.0,2035.6 894.2,2034.7 907.0,2034.7 916.2,2031.0 925.3,2030.1 936.4,2027.4 943.7,2026.4 976.7,2026.4 985.9,2025.2 1031.7,2024.6 1051.9,2022.8 1108.7,2022.2" fill="none" stroke="#0000ff" stroke-width="4.2" stroke-linejoin="round" stroke-dasharray="12 3.7"/>
<polyline points="576.5,2271.0 591.6,2257.8 589.8,2254.7 600.2,2243.5 601.9,2240.4 612.8,2224.8 611.0,2221.7 621.4,2210.5 623.1,2207.4 633.3,2198.6 631.6,2195.5 638.2,2184.3 639.9,2181.2 643.9,2166.9 642.2,2163.8 644.4,2150.7 646.2,2147.6 649.5,2138.2 647.8,2135.1 651.3,2128.2 653.0,2125.1 658.2,2121.4" fill="none" stroke="#0000ff" stroke-width="3.0" stroke-linejoin="round"/>
<polyline points="666.4,2110.8 675.5,2112.6 684.7,2109.0 695.7,2108.0 706.7,2108.0 714.0,2106.2" fill="none" stroke="#0000ff" stroke-width="3.0" stroke-linejoin="round"/>
<polyline points="726.9,2097.0 730.5,2098.9 736.0,2096.1 743.4,2097.0 752.5,2097.0 767.2,2092.4 791.0,2092.4" fill="none" stroke="#0000ff" stroke-width="3.0" stroke-linejoin="round"/>
<polyline points="805.7,2083.3 816.7,2082.4 825.9,2079.6 835.0,2075.0 835.5,2074.1 842.8,2069.5 852.0,2066.4" fill="none" stroke="#0000ff" stroke-width="3.0" stroke-linejoin="round"/>
<polyline points="866.7,2060.4 872.2,2056.7 910.7,2056.7 914.3,2054.9 919.8,2055.2" fill="none" stroke="#0000ff" stroke-width="3.0" stroke-linejoin="round"/>
<polyline points="933.6,2050.8 940.0,2050.8 943.7,2047.9 984.0,2047.5" fill="none" stroke="#0000ff" stroke-width="3.0" stroke-linejoin="round"/>
<polyline points="993.2,2046.6 1048.2,2046.6" fill="none" stroke="#0000ff" stroke-width="3.0" stroke-linejoin="round"/>
<polyline points="1063.8,2046.6 1068.4,2046.6 1072.0,2045.3 1108.7,2045.3" fill="none" stroke="#0000ff" stroke-width="3.0" stroke-linejoin="round"/>
<polyline points="281.7,2276.3 580.1,2276.3 583.8,2276.2 593.0,2276.1 596.7,2276.0 602.2,2275.6 604.9,2275.2 607.7,2276.0 615.0,2276.0 622.3,2275.7 629.7,2276.0 635.2,2275.7 638.8,2275.2 642.5,2275.1 643.8,2273.8 646.2,2274.6 649.8,2275.3 655.3,2275.6 662.7,2275.5 673.7,2275.6 682.9,2275.3 692.0,2275.6 704.9,2275.5 712.2,2275.3 798.4,2275.3 805.7,2275.2 816.7,2275.1 835.0,2275.1 835.5,2275.1 841.0,2275.4 853.8,2275.4 857.5,2275.1 862.1,2275.2 925.3,2275.2 926.8,2274.9 928.3,2275.2 1108.7,2275.2" fill="none" stroke="#ff0000" stroke-width="3.8" stroke-linejoin="round"/>
<polyline points="281.7,2275.9 580.1,2275.9 583.8,2275.8 593.0,2275.5 596.7,2275.2 602.2,2274.3 604.9,2273.4 607.7,2275.2 615.0,2275.2 622.3,2274.6 629.7,2275.2 635.2,2274.6 638.8,2273.4 642.5,2273.1 643.8,2270.2 646.2,2272.0 649.8,2273.7 655.3,2274.3 662.7,2274.0 673.7,2274.3 682.9,2273.7 692.0,2274.3 704.9,2274.0 712.2,2273.7 798.4,2273.7 805.7,2273.4 816.7,2273.2 835.0,2273.2 835.5,2273.2 841.0,2273.8 853.8,2273.8 857.5,2273.2 862.1,2273.4 925.3,2273.4 926.8,2272.7 928.3,2273.4 1108.7,2273.4" fill="none" stroke="#00ff00" stroke-width="3.8" stroke-linejoin="round"/>
<polyline points="281.7,2275.6 580.1,2275.6 583.8,2275.3 593.0,2274.8 596.7,2274.3 602.2,2273.0 604.9,2271.6 607.7,2274.3 615.0,2274.3 622.3,2273.4 629.7,2274.3 635.2,2273.4 638.8,2271.6 642.5,2271.1 643.8,2266.6 646.2,2269.3 649.8,2272.1 655.3,2273.0 662.7,2272.6 673.7,2273.0 682.9,2272.1 692.0,2273.0 704.9,2272.6 712.2,2272.1 798.4,2272.1 805.7,2271.6 816.7,2271.3 835.0,2271.3 835.5,2271.3 841.0,2272.2 853.8,2272.2 857.5,2271.3 862.1,2271.6 925.3,2271.6 926.8,2270.4 928.3,2271.6 1108.7,2271.6" fill="none" stroke="#ff8000" stroke-width="3.8" stroke-linejoin="round"/>
<polyline points="281.7,2275.1 580.1,2275.1 583.8,2274.8 593.0,2274.2 596.7,2273.4 602.2,2271.6 604.9,2269.6 607.7,2273.4 615.0,2273.4 622.3,2272.2 629.7,2273.4 635.2,2272.2 638.8,2269.6 642.5,2269.0 643.8,2262.6 646.2,2266.4 649.8,2270.3 655.3,2271.6 662.7,2270.9 673.7,2271.6 682.9,2270.3 692.0,2271.6 704.9,2270.9 712.2,2270.3 798.4,2270.3 805.7,2269.6 816.7,2269.2 835.0,2269.2 835.5,2269.2 841.0,2270.5 853.8,2270.5 857.5,2269.2 862.1,2269.6 925.3,2269.6 926.8,2268.0 928.3,2269.6 1108.7,2269.6" fill="none" stroke="#00ffff" stroke-width="3.8" stroke-linejoin="round"/>
<polyline points="281.7,2274.5 580.1,2274.5 583.8,2274.0 593.0,2273.1 596.7,2272.1 602.2,2269.4 604.9,2266.6 607.7,2272.1 615.0,2272.1 622.3,2270.3 629.7,2272.1 635.2,2270.3 638.8,2266.6 642.5,2265.7 643.8,2256.6 646.2,2262.1 649.8,2267.6 655.3,2269.4 662.7,2268.5 673.7,2269.4 682.9,2267.6 692.0,2269.4 704.9,2268.5 712.2,2267.6 798.4,2267.6 805.7,2266.6 816.7,2266.1 835.0,2266.1 835.5,2266.1 841.0,2267.9 853.8,2267.9 857.5,2266.1 862.1,2266.6 925.3,2266.6 926.8,2264.3 928.3,2266.6 1108.7,2266.6" fill="none" stroke="#ff00ff" stroke-width="3.8" stroke-linejoin="round"/>
</g>
<text x="274.47" y="2378.90" font-size="26.3" transform="translate(274.47 0) scale(0.9550 1) translate(-274.47 0)">0</text>
<text x="486.07" y="2378.90" font-size="26.3" transform="translate(486.07 0) scale(0.9550 1) translate(-486.07 0)">5</text>
<text x="690.14" y="2378.90" font-size="26.3" textLength="27.94" lengthAdjust="spacingAndGlyphs">10</text>
<text x="901.74" y="2378.90" font-size="26.3" textLength="27.94" lengthAdjust="spacingAndGlyphs">15</text>
<text x="1113.53" y="2378.90" font-size="26.3" textLength="27.94" lengthAdjust="spacingAndGlyphs">20</text>
<text x="1325.13" y="2378.90" font-size="26.3" textLength="27.94" lengthAdjust="spacingAndGlyphs">25</text>
<text x="237.52" y="1924.40" font-size="26.3" textLength="34.92" lengthAdjust="spacingAndGlyphs">0.1</text>
<text x="223.45" y="1996.30" font-size="26.3" textLength="48.88" lengthAdjust="spacingAndGlyphs">0.08</text>
<text x="223.45" y="2068.50" font-size="26.3" textLength="48.88" lengthAdjust="spacingAndGlyphs">0.06</text>
<text x="223.20" y="2140.40" font-size="26.3" textLength="48.88" lengthAdjust="spacingAndGlyphs">0.04</text>
<text x="223.70" y="2212.20" font-size="26.3" textLength="48.88" lengthAdjust="spacingAndGlyphs">0.02</text>
<text x="258.24" y="2284.30" font-size="26.3" transform="translate(258.24 0) scale(0.9550 1) translate(-258.24 0)">0</text>
<text x="215.29" y="2355.60" font-size="26.3" textLength="57.25" lengthAdjust="spacingAndGlyphs">-0.02</text>
<rect x="1105.7" y="1929.0" width="220.60" height="381.60" fill="#fff" stroke="#000" stroke-width="3.4"/>
<line x1="1121.3" y1="1950.40" x2="1201.6" y2="1950.40" stroke="#0000ff" stroke-width="6.8"/>
<text x="1209.92" y="1960.10" font-size="26.3" textLength="60.77" lengthAdjust="spacingAndGlyphs">Ei-f 0</text>
<line x1="1121.3" y1="1988.90" x2="1201.6" y2="1988.90" stroke="#ff0000" stroke-width="4.2"/>
<text x="1209.92" y="1996.80" font-size="26.3" textLength="68.02" lengthAdjust="spacingAndGlyphs">Ei-n 0</text>
<line x1="1121.3" y1="2024.70" x2="1201.6" y2="2024.70" stroke="#0000ff" stroke-width="4.2"/>
<text x="1209.92" y="2034.40" font-size="26.3" textLength="82.49" lengthAdjust="spacingAndGlyphs">Ei-f 0.5</text>
<line x1="1121.3" y1="2062.80" x2="1201.6" y2="2062.80" stroke="#00ff00" stroke-width="4.2"/>
<text x="1209.92" y="2072.40" font-size="26.3" textLength="89.73" lengthAdjust="spacingAndGlyphs">Ei-n 0.5</text>
<line x1="1121.3" y1="2100.40" x2="1201.6" y2="2100.40" stroke="#0000ff" stroke-width="6.4" stroke-dasharray="18.5 5.3"/>
<text x="1209.92" y="2110.30" font-size="26.3" textLength="82.49" lengthAdjust="spacingAndGlyphs">Ei-f 0.1</text>
<line x1="1121.3" y1="2136.50" x2="1201.6" y2="2136.50" stroke="#ff8000" stroke-width="4.2"/>
<text x="1209.92" y="2146.10" font-size="26.3" textLength="89.73" lengthAdjust="spacingAndGlyphs">Ei-n 0.1</text>
<line x1="1121.3" y1="2174.50" x2="1201.6" y2="2174.50" stroke="#0000ff" stroke-width="4.4" stroke-dasharray="12 3.7"/>
<text x="1209.92" y="2184.80" font-size="26.3" textLength="96.97" lengthAdjust="spacingAndGlyphs">Ei-f 0.15</text>
<line x1="1121.3" y1="2212.30" x2="1201.6" y2="2212.30" stroke="#00ffff" stroke-width="4.2"/>
<text x="1209.92" y="2221.80" font-size="26.3" textLength="104.22" lengthAdjust="spacingAndGlyphs">Ei-n 0.15</text>
<line x1="1121.3" y1="2248.40" x2="1201.6" y2="2248.40" stroke="#0000ff" stroke-width="3.0" stroke-dasharray="54.5 18"/>
<text x="1209.92" y="2260.30" font-size="26.3" textLength="82.49" lengthAdjust="spacingAndGlyphs">Ei-f 0.2</text>
<line x1="1121.3" y1="2286.50" x2="1201.6" y2="2286.50" stroke="#ff00ff" stroke-width="4.2"/>
<text x="1209.92" y="2296.30" font-size="26.3" textLength="89.73" lengthAdjust="spacingAndGlyphs">Ei-n 0.2</text>
<text x="732.43" y="1891.90" font-size="26.3" textLength="146.44" lengthAdjust="spacingAndGlyphs">Input Energy</text>
<text x="781.10" y="2412.60" font-size="26.3" textLength="49.97" lengthAdjust="spacingAndGlyphs">time</text>
<text transform="translate(192.20 2146.78) rotate(-90)" font-size="26.3" textLength="24.27" lengthAdjust="spacingAndGlyphs">Ei</text>
<text x="771" y="1234.9" class="sf" font-size="43">a)</text>
<text x="771" y="1853.2" class="sf" font-size="43">b)</text>
<text x="771" y="2470.3" class="sf" font-size="43">c)</text>
</svg>
</body></html>
